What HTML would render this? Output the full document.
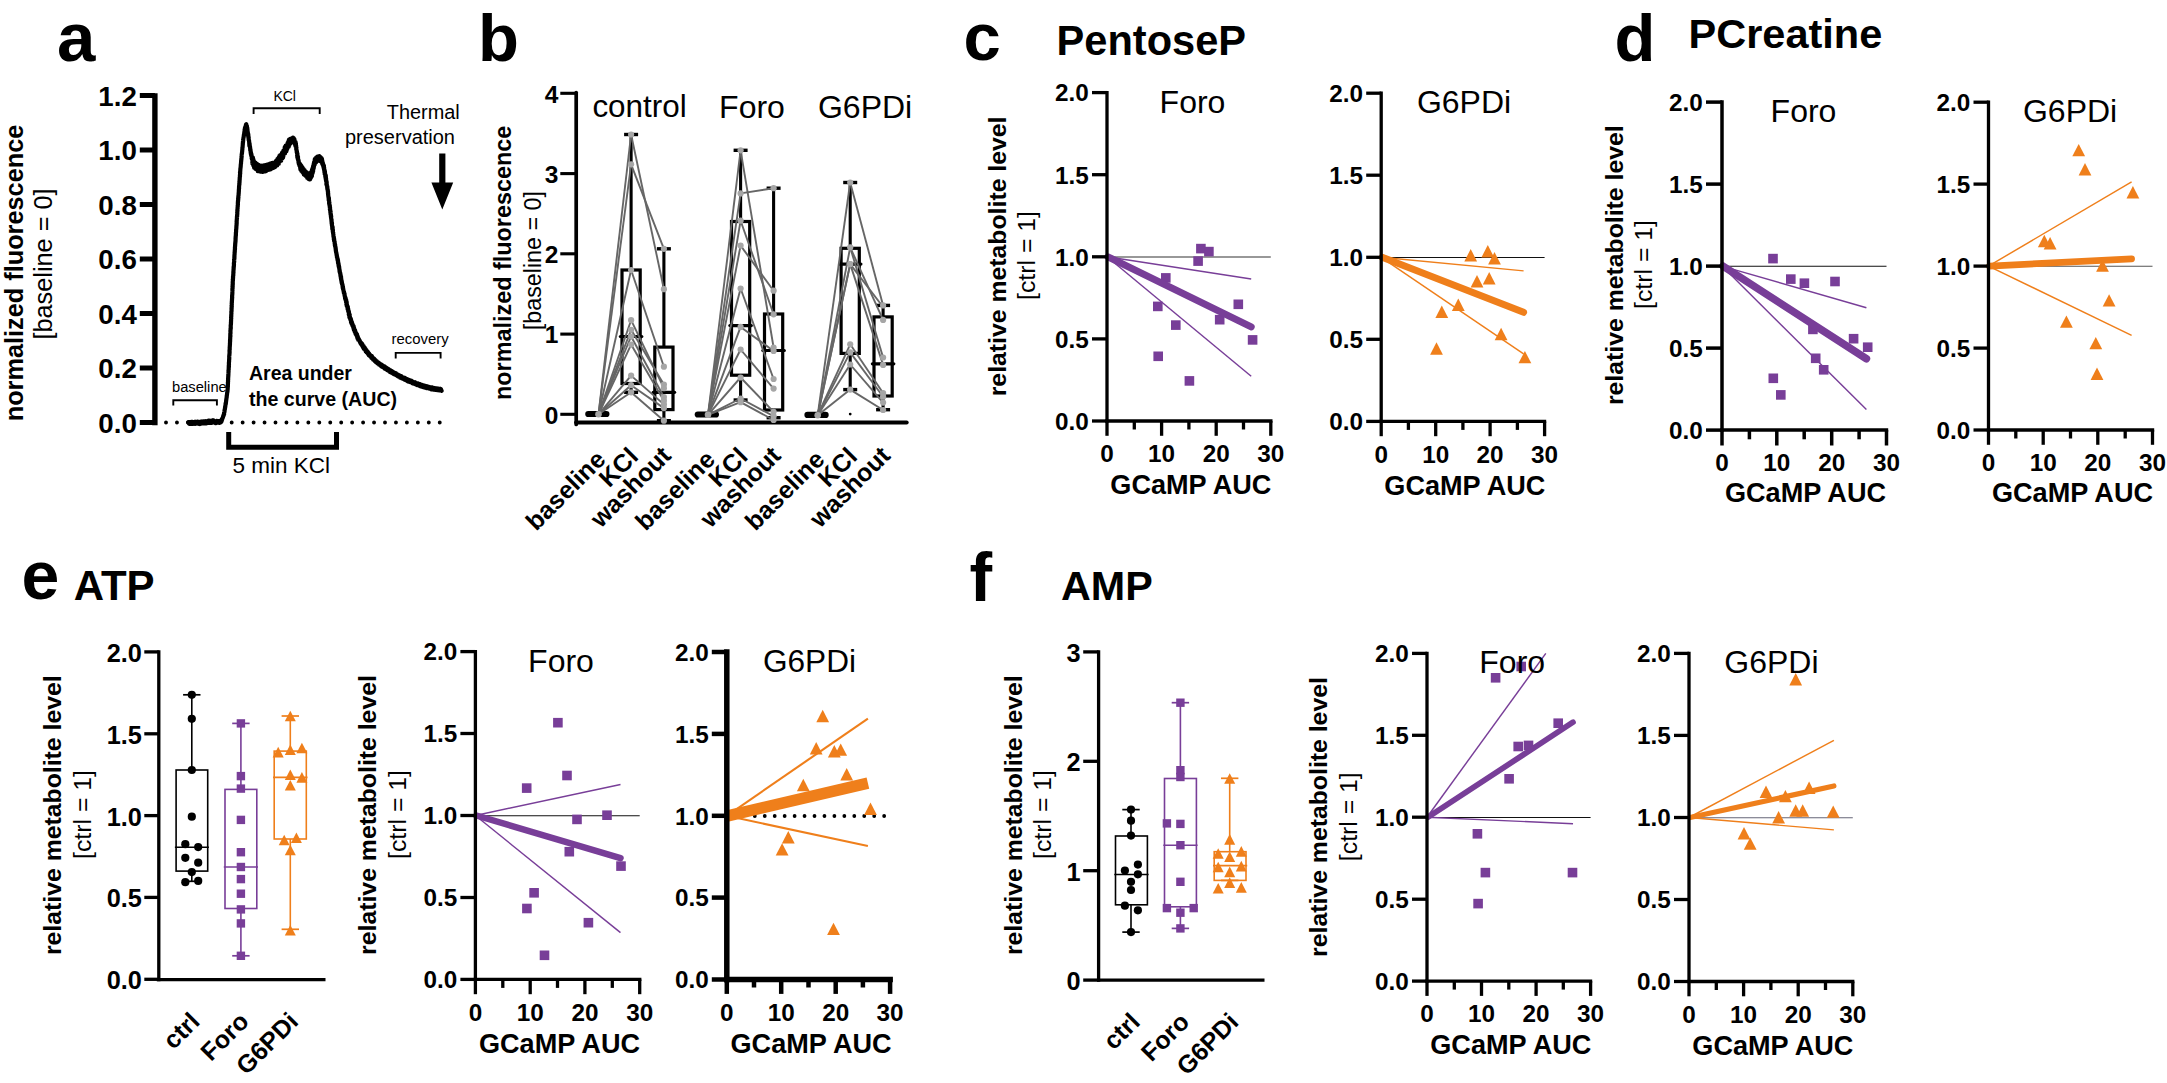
<!DOCTYPE html>
<html><head><meta charset="utf-8"><title>Figure</title>
<style>
html,body{margin:0;padding:0;background:#fff;}
svg{display:block;font-family:"Liberation Sans",sans-serif;}
</style></head>
<body>
<svg width="2167" height="1083" viewBox="0 0 2167 1083">
<rect width="2167" height="1083" fill="#fff"/>
<text x="57.0" y="61.0" font-size="69" font-weight="700">a</text>
<text x="478.0" y="61.0" font-size="67" font-weight="700">b</text>
<text x="963.5" y="59.7" font-size="67" font-weight="700">c</text>
<text x="1614.5" y="60.5" font-size="67" font-weight="700">d</text>
<text x="21.5" y="598.8" font-size="68" font-weight="700">e</text>
<text x="969.5" y="601.0" font-size="68" font-weight="700">f</text>
<text x="1056.5" y="55.0" font-size="41.6" font-weight="700">PentoseP</text>
<text x="1688.5" y="47.8" font-size="41.5" font-weight="700">PCreatine</text>
<text x="73.7" y="599.8" font-size="42" font-weight="700">ATP</text>
<text x="1061.0" y="599.8" font-size="41.3" font-weight="700">AMP</text>
<line x1="154.9" y1="93.3" x2="154.9" y2="425.2" stroke="#000" stroke-width="5.4"/>
<line x1="139.8" y1="422.5" x2="154.9" y2="422.5" stroke="#000" stroke-width="5"/>
<text x="136.8" y="432.5" font-size="27.7" font-weight="700" text-anchor="end">0.0</text>
<line x1="139.8" y1="368.0" x2="154.9" y2="368.0" stroke="#000" stroke-width="5"/>
<text x="136.8" y="378.0" font-size="27.7" font-weight="700" text-anchor="end">0.2</text>
<line x1="139.8" y1="313.5" x2="154.9" y2="313.5" stroke="#000" stroke-width="5"/>
<text x="136.8" y="323.5" font-size="27.7" font-weight="700" text-anchor="end">0.4</text>
<line x1="139.8" y1="259.0" x2="154.9" y2="259.0" stroke="#000" stroke-width="5"/>
<text x="136.8" y="269.0" font-size="27.7" font-weight="700" text-anchor="end">0.6</text>
<line x1="139.8" y1="204.5" x2="154.9" y2="204.5" stroke="#000" stroke-width="5"/>
<text x="136.8" y="214.5" font-size="27.7" font-weight="700" text-anchor="end">0.8</text>
<line x1="139.8" y1="150.0" x2="154.9" y2="150.0" stroke="#000" stroke-width="5"/>
<text x="136.8" y="160.0" font-size="27.7" font-weight="700" text-anchor="end">1.0</text>
<line x1="139.8" y1="95.5" x2="154.9" y2="95.5" stroke="#000" stroke-width="5"/>
<text x="136.8" y="105.5" font-size="27.7" font-weight="700" text-anchor="end">1.2</text>
<text x="22.6" y="273.0" font-size="25.3" font-weight="700" text-anchor="middle" transform="rotate(-90 22.6 273.0)">normalized fluorescence</text>
<text x="52.4" y="264.0" font-size="25.3" text-anchor="middle" transform="rotate(-90 52.4 264.0)">[baseline = 0]</text>
<line x1="166.0" y1="422.5" x2="443.0" y2="422.5" stroke="#000" stroke-width="3.9" stroke-linecap="round" stroke-dasharray="0 10.95"/>
<path d="M188.4,422.1 189.1,423.6 189.5,422.1 189.7,423.9 190.2,422.1 190.7,423.8 191.5,422.0 191.8,424.0 192.6,422.0 193.0,423.9 193.8,422.3 194.2,423.7 194.3,422.1 194.9,423.9 195.3,421.7 196.1,423.5 196.5,421.9 196.7,423.4 197.6,421.8 197.9,423.7 198.5,422.0 199.2,423.9 199.3,421.9 200.0,424.0 200.6,422.0 201.2,423.5 201.3,421.6 201.6,423.5 201.9,421.5 202.8,423.4 203.3,421.5 203.7,423.3 204.0,421.3 204.7,423.4 205.0,421.3 205.2,423.4 206.1,421.3 206.7,423.3 206.9,421.6 207.1,423.2 207.6,421.3 207.9,422.8 208.4,420.7 208.9,422.3 209.1,420.5 209.8,422.8 210.4,420.8 210.5,423.0 210.9,421.3 211.7,422.9 211.6,421.1 212.0,422.5 212.7,420.5 212.7,421.9 213.3,420.3 214.1,422.6 214.2,420.8 214.7,422.7 215.2,421.2 215.7,423.2 215.9,421.1 216.3,422.8 216.7,420.9 217.3,422.4 217.9,421.1 218.2,422.6 218.8,421.1 219.2,422.9 220.1,420.9 220.4,422.2 221.0,421.0 221.6,421.3 221.7,420.3 221.7,420.3 221.9,419.5 222.2,419.4 222.2,418.5 222.4,418.6 222.6,417.8 222.8,417.8 223.0,416.8 223.0,416.8 223.2,415.9 223.4,416.0 223.5,415.1 223.7,415.2 223.9,414.2 224.1,414.3 224.0,413.3 224.1,413.3 224.1,412.5 224.3,412.5 224.5,411.6 224.5,411.6 224.6,410.7 224.5,410.6 224.6,409.8 224.8,409.8 224.9,408.9 224.9,408.9 224.9,408.0 225.1,408.0 225.2,407.1 225.1,407.2 225.2,406.2 225.4,406.2 225.4,405.3 225.5,405.3 225.5,404.5 225.7,404.5 225.6,403.5 225.9,403.6 225.8,402.6 225.9,402.6 226.1,401.7 226.1,401.8 226.1,400.8 226.2,400.8 226.2,399.9 226.3,399.9 226.3,399.0 226.4,399.1 226.5,398.1 226.6,398.1 226.6,397.1 226.7,397.2 226.7,396.3 226.8,396.2 226.8,395.3 226.9,395.3 227.0,394.4 227.0,394.4 227.1,393.4 227.1,393.5 227.2,392.6 227.3,392.5 227.4,391.6 227.5,391.6 227.5,390.7 227.5,390.7 227.6,389.8 227.6,389.8 227.7,388.8 227.7,388.8 227.7,387.9 227.8,387.9 227.7,387.0 227.7,387.0 227.7,386.1 227.9,386.2 227.8,385.2 227.9,385.2 227.9,384.2 227.9,384.4 227.9,383.4 228.0,383.5 227.9,382.5 228.0,382.5 228.0,381.6 228.1,381.5 228.1,380.7 228.0,380.7 228.1,379.8 228.1,379.8 228.2,378.8 228.1,378.8 228.1,377.9 228.2,377.9 228.2,377.0 228.3,377.0 228.2,376.1 228.3,376.2 228.3,375.3 228.4,375.2 228.3,374.3 228.4,374.4 228.4,373.4 228.4,373.5 228.5,372.5 228.5,372.6 228.5,371.6 228.6,371.6 228.5,370.7 228.5,370.6 228.6,369.8 228.7,369.7 228.7,368.9 228.7,368.8 228.7,368.0 228.8,368.0 228.7,367.0 228.9,367.0 228.9,366.1 228.8,366.2 228.8,365.2 228.9,365.3 228.9,364.3 229.0,364.3 228.9,363.4 228.9,363.4 228.9,362.5 229.0,362.5 229.0,361.5 229.1,361.6 229.1,360.7 229.1,360.7 229.1,359.8 229.1,359.8 229.3,358.9 229.2,358.9 229.2,358.0 229.2,357.9 229.3,357.0 229.3,357.1 229.2,356.2 229.3,356.1 229.3,355.3 229.4,355.2 229.4,354.3 229.5,354.3 229.5,353.4 229.5,353.4 229.6,352.6 229.6,352.5 229.5,351.6 229.6,351.6 229.6,350.7 229.5,350.7 229.6,349.7 229.7,349.8 229.7,348.8 229.7,348.9 229.7,348.0 229.7,348.0 229.7,347.0 229.8,347.1 229.8,346.1 229.8,346.1 229.9,345.2 229.9,345.3 229.9,344.4 230.0,344.3 229.9,343.5 230.0,343.4 230.0,342.5 230.0,342.5 230.0,341.6 230.1,341.7 230.1,340.8 230.0,340.7 230.2,339.9 230.1,339.8 230.1,339.0 230.2,339.0 230.2,338.1 230.2,338.0 230.2,337.2 230.3,337.1 230.4,336.2 230.2,336.2 230.4,335.3 230.3,335.3 230.3,334.4 230.3,334.4 230.3,333.5 230.5,333.5 230.5,332.6 230.5,332.6 230.4,331.6 230.5,331.6 230.4,330.8 230.5,330.8 230.5,329.9 230.6,329.9 230.5,328.9 230.7,328.9 230.7,328.0 230.8,328.1 230.7,327.2 230.8,327.2 230.7,326.3 230.7,326.2 230.7,325.3 230.8,325.4 230.8,324.5 230.9,324.4 230.9,323.5 231.0,323.6 230.9,322.6 231.0,322.7 231.0,321.8 231.0,321.7 231.1,320.8 231.0,320.8 231.1,320.0 231.1,319.9 231.1,319.0 231.2,319.0 231.2,318.2 231.2,318.1 231.1,317.3 231.1,317.3 231.2,316.4 231.3,316.4 231.3,315.5 231.2,315.4 231.3,314.6 231.3,314.5 231.4,313.6 231.4,313.6 231.4,312.7 231.4,312.7 231.3,311.8 231.5,311.8 231.5,310.9 231.6,310.9 231.5,310.0 231.5,310.0 231.6,309.0 231.6,309.0 231.5,308.2 231.7,308.2 231.7,307.4 231.6,307.4 231.7,306.3 231.8,306.4 231.6,305.5 231.7,305.5 231.8,304.6 231.8,304.6 231.8,303.7 231.7,303.7 231.8,302.7 231.9,302.8 231.8,301.9 231.9,301.9 231.9,301.0 232.0,301.0 231.9,300.1 232.0,300.0 232.0,299.2 232.1,299.2 232.1,298.3 232.0,298.2 232.2,297.3 232.1,297.3 232.1,296.4 232.1,296.4 232.2,295.5 232.1,295.5 232.2,294.7 232.3,294.6 232.3,293.7 232.3,293.7 232.4,292.9 232.4,292.8 232.3,291.9 232.3,292.0 232.4,291.1 232.4,291.1 232.5,290.1 232.4,290.1 232.4,289.2 232.4,289.2 232.4,288.4 232.6,288.4 232.6,287.4 232.6,287.4 232.5,286.5 232.7,286.5 232.7,285.6 232.6,285.6 232.6,284.8 232.7,284.7 232.8,283.9 232.8,283.8 232.7,282.9 232.8,282.9 232.7,282.0 232.8,282.1 232.8,281.1 232.9,281.1 232.9,280.2 232.9,280.2 232.8,279.4 233.0,279.3 233.0,278.4 233.0,278.4 233.1,277.5 233.0,277.6 233.1,276.7 233.0,276.7 233.2,275.7 233.3,275.7 233.2,274.8 233.3,274.9 233.3,274.0 233.3,273.9 233.4,273.1 233.4,273.1 233.5,272.1 233.4,272.1 233.4,271.2 233.5,271.2 233.5,270.3 233.5,270.3 233.5,269.4 233.6,269.5 233.7,268.5 233.6,268.5 233.6,267.6 233.8,267.6 233.7,266.7 233.8,266.8 233.9,265.8 233.9,265.8 233.9,265.0 233.9,264.9 234.0,264.1 233.9,264.0 233.9,263.1 234.0,263.1 234.0,262.2 234.1,262.2 234.2,261.3 234.2,261.3 234.2,260.4 234.2,260.5 234.1,259.6 234.2,259.5 234.4,258.6 234.4,258.6 234.4,257.8 234.3,257.8 234.5,256.9 234.4,256.9 234.4,256.0 234.4,255.9 234.5,255.0 234.6,255.0 234.5,254.2 234.6,254.1 234.6,253.3 234.7,253.3 234.6,252.4 234.7,252.4 234.8,251.5 234.7,251.5 234.8,250.6 234.8,250.6 234.8,249.6 234.9,249.7 235.0,248.7 234.9,248.7 235.0,247.9 234.9,247.9 235.0,246.9 235.0,247.0 235.1,246.1 235.0,246.1 235.2,245.1 235.1,245.2 235.2,244.3 235.2,244.2 235.3,243.3 235.2,243.4 235.4,242.4 235.3,242.4 235.5,241.5 235.4,241.5 235.5,240.7 235.5,240.7 235.6,239.8 235.6,239.7 235.5,238.8 235.6,238.8 235.6,238.0 235.7,237.9 235.6,237.1 235.7,237.1 235.7,236.1 235.8,236.1 235.9,235.3 235.8,235.2 235.9,234.3 235.9,234.3 235.9,233.4 235.9,233.4 235.9,232.5 236.0,232.5 236.1,231.5 236.1,231.6 236.1,230.7 236.1,230.7 236.1,229.8 236.2,229.7 236.2,228.9 236.3,228.9 236.3,228.0 236.3,227.9 236.4,227.1 236.4,227.1 236.4,226.1 236.4,226.2 236.5,225.2 236.6,225.2 236.6,224.3 236.5,224.3 236.6,223.4 236.7,223.4 236.7,222.5 236.7,222.6 236.6,221.6 236.7,221.6 236.7,220.7 236.7,220.7 236.8,219.7 236.8,219.8 236.8,218.9 236.9,218.8 237.0,217.9 237.0,218.0 236.9,217.0 237.0,217.0 237.1,216.2 237.2,216.2 237.1,215.2 237.1,215.2 237.2,214.4 237.3,214.3 237.3,213.3 237.3,213.4 237.3,212.6 237.2,212.5 237.4,211.6 237.4,211.6 237.3,210.7 237.5,210.6 237.4,209.8 237.4,209.8 237.5,208.8 237.6,208.8 237.6,208.0 237.6,208.0 237.6,207.1 237.6,207.1 237.8,206.1 237.7,206.1 237.7,205.2 237.8,205.2 237.9,204.3 237.9,204.4 237.9,203.4 237.8,203.4 237.9,202.5 237.9,202.6 237.9,201.6 238.1,201.6 238.0,200.7 238.1,200.7 238.2,199.8 238.2,199.8 238.1,198.8 238.3,198.9 238.2,198.0 238.4,198.0 238.4,197.1 238.3,197.1 238.4,196.3 238.4,196.2 238.5,195.2 238.6,195.3 238.6,194.4 238.6,194.4 238.6,193.5 238.7,193.5 238.8,192.7 238.7,192.6 238.8,191.6 238.8,191.7 238.9,190.8 238.8,190.8 238.9,189.9 238.9,190.0 238.9,188.9 239.0,189.0 239.0,188.0 239.1,188.1 239.0,187.2 239.0,187.2 239.1,186.3 239.1,186.3 239.2,185.4 239.2,185.3 239.3,184.4 239.4,184.5 239.3,183.5 239.4,183.6 239.5,182.6 239.4,182.7 239.6,181.7 239.4,181.7 239.5,180.9 239.6,180.9 239.6,179.9 239.7,179.9 239.6,179.1 239.8,179.0 239.7,178.2 239.7,178.1 239.8,177.2 239.8,177.2 240.0,176.3 240.0,176.4 239.9,175.4 240.0,175.5 240.0,174.5 240.0,174.5 240.1,173.7 240.2,173.6 240.0,172.8 240.2,172.8 240.1,171.8 240.2,171.9 240.2,170.9 240.3,171.0 240.3,170.0 240.3,170.0 240.4,169.1 240.4,169.2 240.4,168.2 240.5,168.3 240.6,167.3 240.6,167.3 240.7,166.5 240.7,166.4 240.7,165.5 240.8,165.5 240.8,164.6 240.8,164.6 240.9,163.7 241.0,163.7 241.0,162.8 241.0,162.9 241.1,161.9 241.1,161.9 241.2,161.0 241.1,161.0 241.3,160.1 241.2,160.1 241.4,159.1 241.3,159.2 241.4,158.3 241.5,158.3 241.5,157.4 241.6,157.4 241.5,156.4 241.6,156.5 241.8,155.5 241.8,155.6 241.7,154.7 241.7,154.6 241.8,153.8 241.9,153.8 242.0,152.9 242.0,152.9 242.0,151.9 242.1,152.0 242.2,151.1 242.2,151.1 242.2,150.2 242.3,150.2 242.3,149.2 242.4,149.3 242.4,148.4 242.4,148.4 242.4,147.5 242.6,147.5 242.6,146.6 242.6,146.5 242.7,145.7 242.7,145.7 242.7,144.7 242.8,144.7 242.8,143.8 242.8,143.9 242.8,142.9 243.0,142.9 242.9,142.0 243.0,142.1 243.1,141.1 243.2,141.1 243.1,140.2 243.1,140.3 243.2,139.3 243.3,139.4 243.4,138.4 243.4,138.4 243.5,137.5 243.6,137.5 243.7,136.6 243.7,136.6 243.9,135.6 243.8,135.7 243.9,134.7 244.0,134.7 244.2,133.7 244.2,133.8 244.2,132.8 244.3,132.9 244.4,131.9 244.4,131.9 244.5,131.0 244.6,131.0 244.7,130.1 244.7,130.0 244.8,129.2 244.8,129.2 244.9,128.3 245.0,128.2 245.1,127.3 245.3,127.3 245.5,126.3 245.5,126.4 245.8,125.4 245.8,125.5 246.0,124.6 246.0,124.6 246.3,124.3 246.2,125.7 246.3,125.1 246.5,126.6 246.9,126.0 246.7,127.8 247.0,127.0 247.1,128.7 247.3,127.9 247.2,129.6 247.4,128.8 247.4,130.6 247.5,129.9 247.4,131.2 247.6,130.8 247.7,132.1 247.7,131.6 247.8,133.3 247.7,132.4 247.9,134.1 248.1,133.3 248.0,134.9 248.3,134.4 248.2,135.9 248.0,135.2 248.4,136.9 248.3,136.0 248.4,137.6 248.7,137.2 248.6,138.6 248.5,137.8 248.6,139.4 248.7,138.7 248.7,140.3 248.8,139.7 249.1,141.2 249.1,140.6 249.1,142.1 249.1,141.3 249.3,143.1 249.2,142.5 249.3,144.0 249.5,143.2 249.3,144.9 249.7,144.2 249.4,145.7 249.5,145.2 249.9,146.6 249.9,145.9 250.1,147.5 250.0,146.8 250.1,148.4 250.2,147.9 250.2,149.3 250.3,148.8 250.2,150.1 250.5,149.4 250.5,151.1 250.6,150.4 250.6,151.9 250.6,151.4 250.7,152.9 250.9,152.1 250.8,153.8 250.9,153.3 251.3,154.7 251.4,154.1 251.2,155.6 251.5,154.8 251.7,156.5 251.6,156.0 251.8,157.3 251.7,156.9 251.7,158.4 251.9,157.5 251.9,159.3 252.1,158.7 252.4,160.0 252.5,159.6 252.3,163.5 252.9,157.7 253.1,163.2 253.2,158.7 253.3,165.4 253.3,159.2 253.8,164.8 253.5,160.5 254.2,165.7 254.0,161.2 254.1,167.8 254.5,163.0 254.8,168.0 255.3,162.7 255.5,169.0 256.0,163.3 256.6,169.0 256.8,163.7 257.5,170.2 257.6,165.1 257.7,171.1 258.4,164.9 258.5,171.1 259.3,165.5 259.5,171.0 259.9,165.5 260.3,171.7 260.9,165.6 261.5,171.2 261.5,166.7 262.3,171.8 263.0,165.6 263.0,171.9 263.9,165.4 264.2,170.8 264.8,165.3 265.2,171.5 265.4,166.1 266.0,171.1 266.3,164.8 267.1,170.0 267.4,164.7 267.8,169.7 268.1,164.3 268.8,169.8 268.9,164.0 269.7,169.2 270.0,163.6 270.7,169.3 270.9,163.6 271.1,168.4 271.6,163.1 272.1,168.5 272.6,162.9 272.9,167.3 273.9,162.8 273.8,167.8 274.5,162.6 274.8,166.8 275.1,162.1 275.2,167.1 276.0,160.8 276.2,165.4 276.7,160.3 277.2,165.5 277.5,158.8 277.5,163.7 277.8,159.4 278.0,163.1 278.6,157.5 278.8,163.7 279.3,158.0 279.4,162.1 279.4,155.9 279.7,161.5 280.2,155.1 280.5,160.5 280.7,155.5 281.2,160.7 281.1,155.0 281.4,158.9 282.0,152.8 282.2,157.6 282.4,152.3 282.5,158.3 282.4,152.4 283.1,157.4 283.2,151.4 283.4,156.3 283.4,150.5 283.7,154.6 284.1,150.0 284.1,153.8 284.6,149.4 284.9,153.1 284.7,147.2 285.1,153.4 285.7,146.4 285.5,151.8 285.7,145.5 286.4,151.2 286.4,145.6 286.8,150.1 286.9,145.0 286.9,148.6 287.4,143.6 287.3,149.0 287.6,142.9 287.8,147.3 288.5,142.2 288.3,146.8 288.6,140.5 288.8,146.7 289.0,139.7 289.6,144.7 289.7,139.8 289.9,143.2 290.2,138.8 290.8,143.1 290.7,138.9 291.6,141.6 292.0,138.3 292.5,140.9 292.9,137.6 292.8,141.0 293.6,138.1 293.6,142.1 294.4,139.1 294.5,142.5 294.4,139.3 294.9,143.4 294.7,140.9 295.1,144.7 295.0,141.7 295.4,145.8 295.6,142.2 295.4,146.0 295.9,143.3 296.0,146.9 296.1,145.4 296.2,147.2 296.1,146.5 296.4,148.0 296.4,147.3 296.2,149.0 296.3,148.2 296.4,149.8 296.3,149.0 296.6,150.7 296.5,149.8 296.9,151.7 296.7,150.7 296.8,152.6 296.7,151.5 297.2,153.4 297.0,152.6 297.1,154.1 297.4,153.6 297.1,155.0 297.2,154.3 297.2,155.9 297.6,155.4 297.3,157.0 297.7,156.1 297.8,157.7 298.0,157.0 297.7,158.6 298.0,157.9 297.9,159.5 298.1,159.0 298.3,160.6 298.1,159.7 298.5,161.3 298.6,160.4 298.5,162.3 298.8,161.5 298.7,163.3 298.9,162.4 298.8,164.0 299.1,163.1 299.5,165.0 299.6,163.9 299.4,165.7 300.0,164.8 299.9,166.6 300.2,164.2 300.3,168.6 300.5,164.9 300.4,169.5 301.1,165.4 301.3,171.0 301.5,166.0 301.8,170.9 302.0,167.5 302.3,171.9 302.5,167.4 302.9,172.6 303.1,168.7 303.7,173.3 303.6,169.1 303.8,174.5 304.6,170.0 304.5,174.9 305.0,171.1 305.1,175.2 305.5,171.5 305.9,176.0 306.1,171.9 306.9,177.1 307.0,172.5 307.2,177.9 307.7,173.2 308.1,178.2 308.2,174.3 308.5,178.9 309.0,174.4 309.1,179.3 309.9,175.5 310.0,179.4 310.0,173.6 310.3,178.9 310.4,174.0 311.0,177.6 310.8,172.7 311.2,177.1 311.3,172.0 311.9,176.2 311.6,171.0 311.8,175.2 312.1,169.4 312.3,174.0 312.4,168.6 312.6,173.1 312.7,167.7 312.9,171.7 313.0,167.7 313.1,171.4 313.1,166.1 313.2,169.8 313.5,165.3 313.5,168.9 313.5,164.9 313.8,167.9 313.7,163.9 313.8,167.0 314.2,162.7 314.1,166.3 314.0,162.4 314.1,165.6 314.5,161.8 314.8,164.4 314.9,160.1 315.1,163.4 314.8,159.1 314.7,162.4 315.4,158.8 316.0,162.5 316.1,157.7 316.4,161.6 316.9,157.7 317.1,161.1 317.4,156.5 318.0,160.6 318.1,156.9 318.8,160.4 319.3,156.1 320.0,160.1 320.0,156.7 320.6,160.8 320.6,157.3 320.7,161.5 321.5,158.0 321.5,162.1 322.0,158.9 322.2,163.8 322.4,161.2 322.1,163.0 322.5,162.0 322.4,163.9 322.9,162.9 322.9,165.2 323.2,164.1 323.2,166.0 323.3,164.7 323.3,166.7 323.9,165.6 323.9,167.5 323.9,166.6 323.8,168.7 324.1,167.3 324.2,169.5 324.0,168.6 324.4,170.2 324.1,169.5 324.5,171.5 324.6,170.1 324.4,172.0 324.9,171.2 324.9,173.1 324.7,172.1 324.7,174.2 325.1,173.0 325.1,174.9 325.0,173.7 325.4,176.1 325.4,174.7 325.3,176.6 325.8,175.5 325.5,177.9 325.9,176.7 325.9,178.8 325.9,177.3 325.8,179.5 326.1,178.6 326.0,180.6 326.1,179.2 326.1,181.2 326.2,180.4 326.7,182.2 326.5,181.4 326.5,183.2 326.5,182.3 326.4,184.3 326.7,183.2 326.6,185.0 326.7,184.2 327.1,185.9 326.9,185.2 327.0,186.6 327.3,186.3 327.2,187.6 327.4,187.2 327.3,188.5 327.4,187.9 327.4,189.5 327.6,189.0 327.6,190.2 327.8,189.9 327.9,191.2 327.8,190.8 327.9,192.0 328.1,191.7 328.0,193.0 328.0,192.5 328.0,194.0 328.2,193.5 328.2,194.7 328.1,194.3 328.3,195.8 328.2,195.2 328.4,196.6 328.4,196.3 328.5,197.5 328.5,197.0 328.6,198.4 328.9,197.9 328.9,199.5 328.7,199.0 328.7,200.3 329.0,199.8 329.0,201.2 329.1,200.8 329.3,202.1 329.2,201.7 329.1,203.1 329.4,202.5 329.2,203.8 329.3,203.5 329.4,204.8 329.4,204.4 329.6,205.7 329.8,205.3 329.8,206.6 329.7,206.1 329.8,207.4 330.0,207.0 329.9,208.4 330.1,208.0 329.9,209.3 330.0,208.9 330.1,210.4 330.3,210.0 330.3,211.2 330.4,210.7 330.3,212.0 330.6,211.7 330.7,213.1 330.6,212.5 330.7,214.0 330.5,213.5 330.7,214.9 330.9,214.5 330.9,215.7 331.0,215.3 330.9,216.7 331.2,216.2 331.1,217.6 331.0,217.2 331.2,218.5 331.2,218.2 331.4,219.5 331.3,219.1 331.4,220.3 331.6,219.9 331.5,221.4 331.5,220.8 331.6,222.2 331.7,221.6 331.6,223.1 331.9,222.6 332.0,224.0 331.8,223.5 331.9,224.8 331.9,224.4 332.0,225.8 332.1,225.4 332.2,226.6 332.2,226.2 332.2,227.4 332.6,227.0 332.3,228.5 332.7,227.9 332.4,229.3 332.6,228.9 332.7,230.1 332.9,229.7 332.9,231.2 332.9,230.7 332.8,231.9 332.8,231.4 333.2,232.8 333.0,232.4 333.3,233.9 333.1,233.2 333.4,234.7 333.3,234.3 333.5,235.5 333.4,235.1 333.5,236.6 333.5,236.1 333.7,237.4 333.8,236.8 333.9,238.4 333.9,237.8 333.8,239.1 334.1,238.8 334.2,240.0 334.2,239.5 334.1,240.9 334.3,240.6 334.5,241.8 334.6,241.3 334.7,242.8 334.6,242.3 334.7,243.7 334.7,243.3 334.9,244.7 335.1,244.3 334.9,245.5 335.1,245.1 335.1,246.4 335.2,246.0 335.5,247.5 335.5,246.8 335.6,248.3 335.7,247.9 335.7,249.2 335.6,248.7 335.9,250.1 335.9,249.7 335.9,251.1 335.8,250.6 336.1,251.9 336.0,251.4 336.2,252.8 336.3,252.3 336.4,253.7 336.4,253.3 336.7,254.6 336.5,254.0 336.7,255.4 336.8,255.0 336.9,256.4 336.9,255.8 336.9,257.2 337.2,256.9 337.2,258.0 337.3,257.5 337.4,259.1 337.6,258.6 337.8,260.0 337.5,259.3 337.7,260.7 338.0,260.3 338.0,261.6 338.1,261.3 338.0,262.5 338.0,262.1 338.1,263.4 338.4,263.0 338.6,264.4 338.6,263.9 338.7,265.3 338.5,264.7 338.7,266.2 338.9,265.6 338.8,267.0 339.1,266.4 339.2,267.8 339.2,267.5 339.3,268.9 339.2,268.2 339.5,269.7 339.4,269.3 339.7,270.7 339.5,270.3 339.6,271.6 339.7,271.0 339.8,272.5 340.0,272.1 340.2,273.4 340.2,272.8 340.4,274.1 340.3,273.9 340.4,275.3 340.6,274.8 340.5,276.1 340.7,275.6 340.7,276.9 341.0,276.5 341.1,277.9 340.8,277.4 341.0,278.9 341.2,278.4 341.1,279.6 341.3,279.2 341.4,280.5 341.3,280.1 341.5,281.4 341.7,280.9 341.6,282.3 341.9,282.0 341.8,283.3 341.9,282.8 342.1,284.3 342.3,283.9 342.3,285.2 342.5,284.6 342.5,286.0 342.5,285.6 342.7,287.0 342.9,286.4 342.7,287.9 343.0,287.3 343.1,288.6 343.1,288.2 343.1,289.5 343.3,288.9 343.4,290.4 343.4,290.0 343.6,291.2 343.6,290.7 343.8,292.2 344.0,291.8 343.9,293.0 344.1,292.6 344.3,294.0 344.5,293.5 344.6,294.9 344.4,294.4 344.7,295.9 344.7,295.2 344.8,296.7 344.8,296.1 345.3,297.8 345.0,296.9 345.1,298.6 345.5,297.6 345.4,299.5 345.6,298.2 345.8,300.4 345.9,299.0 346.0,301.2 346.2,300.0 346.0,302.1 346.0,301.0 346.5,303.3 346.7,302.1 346.4,304.2 346.7,302.9 346.8,304.9 346.6,303.8 346.7,305.9 347.0,304.6 347.2,306.7 347.2,305.8 347.6,307.7 347.8,306.6 347.6,308.7 347.6,307.5 347.6,309.3 348.1,308.4 348.2,310.3 348.1,309.1 348.2,311.3 348.4,310.1 348.6,312.0 348.7,310.8 348.8,312.9 348.9,311.5 348.8,313.8 349.0,312.5 348.8,314.6 349.1,313.5 349.4,315.7 349.7,314.6 349.6,316.4 349.3,315.5 349.4,317.5 349.8,316.4 350.2,318.3 349.8,317.3 350.3,319.5 350.1,318.2 350.6,320.0 350.9,318.9 350.9,320.9 351.1,319.7 351.0,322.1 351.1,320.5 351.2,322.8 351.5,321.3 351.5,323.6 351.9,322.1 352.4,324.5 352.1,323.3 352.3,325.2 352.4,324.2 352.9,326.2 352.8,324.6 352.9,327.0 353.0,325.5 353.6,327.7 353.7,326.4 353.6,328.6 353.8,327.2 353.8,329.7 354.2,328.3 354.4,330.6 354.3,329.0 354.6,331.4 355.1,330.1 355.3,332.3 355.1,331.0 355.2,333.2 355.3,331.4 355.6,333.9 355.8,332.6 356.3,334.4 356.3,333.1 356.7,335.6 357.0,334.4 356.8,336.4 357.2,335.2 357.3,337.0 357.5,336.0 357.4,338.2 357.8,336.5 357.8,338.8 358.0,337.5 358.2,339.7 358.4,338.2 358.8,340.2 358.9,339.1 359.5,341.2 359.3,339.7 360.0,342.2 359.9,340.9 360.1,342.6 360.2,341.5 360.7,343.7 360.9,342.6 361.4,344.5 361.5,343.1 361.9,345.5 362.2,343.8 362.2,346.0 362.5,344.5 362.7,346.8 362.9,345.7 363.5,347.4 363.6,346.1 363.6,348.5 363.9,347.3 364.1,349.0 364.8,347.7 365.1,349.7 365.3,348.7 365.5,350.7 365.6,349.1 365.7,351.5 366.5,350.0 366.6,352.3 366.7,350.7 367.3,352.7 367.6,351.5 367.7,353.6 368.1,352.2 368.4,354.2 368.4,352.8 368.7,355.1 369.1,353.5 369.4,355.6 369.5,354.5 370.3,356.4 370.3,355.0 370.9,356.9 370.8,355.5 371.3,357.8 371.9,356.1 372.2,358.1 372.3,356.8 372.9,358.8 372.8,357.8 373.1,359.6 373.8,358.3 374.0,360.1 374.3,358.7 374.8,361.0 375.0,359.5 375.5,361.5 375.8,360.4 376.0,362.2 376.3,361.0 376.7,362.6 376.9,361.4 377.2,363.2 378.0,362.1 378.1,363.8 378.8,362.7 379.0,364.6 379.1,363.1 379.9,365.0 380.0,363.8 380.4,365.4 380.9,364.2 381.1,366.1 381.7,364.7 381.8,366.6 382.5,365.3 382.9,367.2 382.9,365.6 383.3,367.4 383.9,366.2 384.2,368.1 384.8,366.5 384.7,368.6 385.3,367.2 385.9,369.1 386.1,367.5 386.5,369.6 386.9,368.0 387.4,370.2 387.6,368.9 388.2,370.6 388.6,369.0 388.6,371.0 389.0,369.5 389.4,371.4 390.2,370.1 390.1,372.2 390.9,370.6 390.9,372.6 391.6,371.0 392.3,373.1 392.6,371.7 392.7,373.4 392.9,371.7 393.5,373.8 393.9,372.5 394.6,374.4 394.8,372.9 394.9,374.7 395.8,373.1 396.2,375.1 396.2,374.0 396.8,375.6 397.2,374.2 397.7,376.1 398.2,374.8 398.7,376.6 398.6,375.2 399.3,376.9 399.7,375.6 400.0,377.6 400.4,375.8 401.1,377.9 401.3,376.1 401.8,378.4 401.9,376.8 402.7,378.4 403.3,377.4 403.5,378.9 404.1,377.6 404.5,379.5 404.8,377.9 405.0,379.8 405.8,378.6 406.3,380.2 406.2,379.0 407.0,380.9 407.2,379.1 407.5,381.3 408.2,379.7 408.3,381.6 408.7,379.8 409.2,381.7 409.8,380.4 410.2,382.0 410.9,380.8 411.3,382.4 411.7,380.8 411.8,382.7 412.2,381.3 412.6,383.3 412.9,381.8 413.7,383.6 414.1,382.3 414.6,383.8 415.1,382.2 415.6,384.3 415.7,382.8 416.4,384.6 416.9,383.3 417.1,385.1 417.6,383.4 417.8,385.1 418.3,383.5 419.1,385.4 419.6,384.2 419.8,386.1 420.1,384.1 420.8,386.0 421.0,384.7 421.4,386.6 421.8,384.8 422.3,386.6 422.9,385.4 423.4,387.2 423.8,385.5 423.9,387.3 424.4,385.6 424.9,387.5 425.5,386.0 426.1,387.6 426.2,386.0 426.8,388.2 427.6,386.4 427.6,388.0 428.4,386.8 428.7,388.5 428.9,386.9 429.4,388.7 430.0,387.2 430.3,388.9 430.8,387.5 431.2,389.3 431.9,387.3 432.0,389.5 432.8,387.6 433.3,389.6 433.6,387.8 434.0,389.6 434.4,388.1 435.1,389.8 435.8,388.5 436.1,389.9 436.6,388.3 437.1,390.0 437.3,388.6 438.2,390.1 438.4,388.6 439.0,390.4 439.4,388.9 440.0,390.4 440.4,389.0 440.5,390.5 440.9,389.0 441.6,390.7" fill="none" stroke="#000" stroke-width="4.2" stroke-linejoin="round" stroke-linecap="round"/>
<path d="M253.6,114 V108.3 H319.7 V114" fill="none" stroke="#000" stroke-width="1.9"/>
<text x="284.7" y="101.2" font-size="14" text-anchor="middle">KCl</text>
<path d="M173.3,405.6 V400.2 H216.9 V405.6" fill="none" stroke="#000" stroke-width="1.9"/>
<text x="172.0" y="392.2" font-size="14.7">baseline</text>
<path d="M395.7,358.4 V352.9 H440.6 V358.4" fill="none" stroke="#000" stroke-width="1.9"/>
<text x="391.5" y="344.0" font-size="14.9">recovery</text>
<text x="459.8" y="118.8" font-size="19.9" text-anchor="end">Thermal</text>
<text x="455.0" y="144.4" font-size="20" text-anchor="end">preservation</text>
<path d="M439.2,153.5 H445.4 V182.5 H453.2 L442.3,209.6 L431.4,182.5 H439.2 Z" fill="#000"/>
<text x="249.0" y="379.8" font-size="19.5" font-weight="700">Area under</text>
<text x="249.0" y="405.5" font-size="19.6" font-weight="700">the curve (AUC)</text>
<path d="M228.7,432 V447.3 H336.5 V432" fill="none" stroke="#000" stroke-width="5"/>
<text x="281.3" y="473.4" font-size="22.5" text-anchor="middle">5 min KCl</text>
<line x1="576.2" y1="92.6" x2="576.2" y2="424.5" stroke="#000" stroke-width="3.7" stroke-linecap="round"/>
<line x1="576.2" y1="422.5" x2="906.6" y2="422.5" stroke="#000" stroke-width="4.2" stroke-linecap="round"/>
<line x1="560.3" y1="414.3" x2="576.2" y2="414.3" stroke="#000" stroke-width="3.1"/>
<text x="558.5" y="423.6" font-size="24.5" font-weight="700" text-anchor="end">0</text>
<line x1="560.3" y1="334.1" x2="576.2" y2="334.1" stroke="#000" stroke-width="3.1"/>
<text x="558.5" y="343.4" font-size="24.5" font-weight="700" text-anchor="end">1</text>
<line x1="560.3" y1="253.8" x2="576.2" y2="253.8" stroke="#000" stroke-width="3.1"/>
<text x="558.5" y="263.1" font-size="24.5" font-weight="700" text-anchor="end">2</text>
<line x1="560.3" y1="173.6" x2="576.2" y2="173.6" stroke="#000" stroke-width="3.1"/>
<text x="558.5" y="182.9" font-size="24.5" font-weight="700" text-anchor="end">3</text>
<line x1="560.3" y1="93.3" x2="576.2" y2="93.3" stroke="#000" stroke-width="3.1"/>
<text x="558.5" y="102.6" font-size="24.5" font-weight="700" text-anchor="end">4</text>
<text x="511.3" y="262.9" font-size="23.4" font-weight="700" text-anchor="middle" transform="rotate(-90 511.3 262.9)">normalized fluorescence</text>
<text x="540.9" y="260.6" font-size="23.3" text-anchor="middle" transform="rotate(-90 540.9 260.6)">[baseline = 0]</text>
<text x="639.5" y="117.3" font-size="31.4" text-anchor="middle">control</text>
<text x="752.0" y="117.5" font-size="32" text-anchor="middle">Foro</text>
<text x="865.1" y="117.5" font-size="32" text-anchor="middle">G6PDi</text>
<line x1="588.3" y1="414.0" x2="606.4" y2="414.0" stroke="#000" stroke-width="6.2" stroke-linecap="round"/>
<line x1="631.1" y1="134.5" x2="631.1" y2="270.0" stroke="#000" stroke-width="3.1"/>
<line x1="631.1" y1="383.5" x2="631.1" y2="392.3" stroke="#000" stroke-width="3.1"/>
<line x1="624.1" y1="134.5" x2="638.1" y2="134.5" stroke="#000" stroke-width="3.4"/>
<line x1="624.1" y1="392.3" x2="638.1" y2="392.3" stroke="#000" stroke-width="3.4"/>
<rect x="622.0" y="270.0" width="18.2" height="113.5" fill="none" stroke="#000" stroke-width="3.2"/>
<line x1="620.4" y1="336.5" x2="641.8" y2="336.5" stroke="#000" stroke-width="3.2" stroke-linecap="round"/>
<line x1="663.9" y1="248.8" x2="663.9" y2="347.1" stroke="#000" stroke-width="3.1"/>
<line x1="663.9" y1="409.6" x2="663.9" y2="420.7" stroke="#000" stroke-width="3.1"/>
<line x1="656.9" y1="248.8" x2="670.9" y2="248.8" stroke="#000" stroke-width="3.4"/>
<line x1="656.9" y1="420.7" x2="670.9" y2="420.7" stroke="#000" stroke-width="3.4"/>
<rect x="654.8" y="347.1" width="18.2" height="62.5" fill="none" stroke="#000" stroke-width="3.2"/>
<line x1="653.2" y1="392.3" x2="674.6" y2="392.3" stroke="#000" stroke-width="3.2" stroke-linecap="round"/>
<line x1="598.5" y1="414.3" x2="631.1" y2="134.5" stroke="#666" stroke-width="1.9"/>
<line x1="598.5" y1="414.3" x2="631.1" y2="164.3" stroke="#666" stroke-width="1.9"/>
<line x1="598.5" y1="414.3" x2="631.1" y2="270.0" stroke="#666" stroke-width="1.9"/>
<line x1="598.5" y1="414.3" x2="631.1" y2="320.2" stroke="#666" stroke-width="1.9"/>
<line x1="598.5" y1="414.3" x2="631.1" y2="329.8" stroke="#666" stroke-width="1.9"/>
<line x1="598.5" y1="414.3" x2="631.1" y2="336.5" stroke="#666" stroke-width="1.9"/>
<line x1="598.5" y1="414.3" x2="631.1" y2="344.6" stroke="#666" stroke-width="1.9"/>
<line x1="598.5" y1="414.3" x2="631.1" y2="375.6" stroke="#666" stroke-width="1.9"/>
<line x1="598.5" y1="414.3" x2="631.1" y2="385.2" stroke="#666" stroke-width="1.9"/>
<line x1="598.5" y1="414.3" x2="631.1" y2="392.3" stroke="#666" stroke-width="1.9"/>
<line x1="631.1" y1="134.5" x2="663.9" y2="289.2" stroke="#666" stroke-width="1.9"/>
<line x1="631.1" y1="164.3" x2="663.9" y2="248.8" stroke="#666" stroke-width="1.9"/>
<line x1="631.1" y1="270.0" x2="663.9" y2="366.7" stroke="#666" stroke-width="1.9"/>
<line x1="631.1" y1="320.2" x2="663.9" y2="388.2" stroke="#666" stroke-width="1.9"/>
<line x1="631.1" y1="329.8" x2="663.9" y2="384.5" stroke="#666" stroke-width="1.9"/>
<line x1="631.1" y1="336.5" x2="663.9" y2="397.0" stroke="#666" stroke-width="1.9"/>
<line x1="631.1" y1="344.6" x2="663.9" y2="400.7" stroke="#666" stroke-width="1.9"/>
<line x1="631.1" y1="375.6" x2="663.9" y2="404.4" stroke="#666" stroke-width="1.9"/>
<line x1="631.1" y1="385.2" x2="663.9" y2="408.1" stroke="#666" stroke-width="1.9"/>
<line x1="631.1" y1="392.3" x2="663.9" y2="420.7" stroke="#666" stroke-width="1.9"/>
<circle cx="631.1" cy="134.5" r="3.1" fill="#a6a6a6"/>
<circle cx="631.1" cy="164.3" r="3.1" fill="#a6a6a6"/>
<circle cx="631.1" cy="270.0" r="3.1" fill="#a6a6a6"/>
<circle cx="631.1" cy="320.2" r="3.1" fill="#a6a6a6"/>
<circle cx="631.1" cy="329.8" r="3.1" fill="#a6a6a6"/>
<circle cx="631.1" cy="336.5" r="3.1" fill="#a6a6a6"/>
<circle cx="631.1" cy="344.6" r="3.1" fill="#a6a6a6"/>
<circle cx="631.1" cy="375.6" r="3.1" fill="#a6a6a6"/>
<circle cx="631.1" cy="385.2" r="3.1" fill="#a6a6a6"/>
<circle cx="631.1" cy="392.3" r="3.1" fill="#a6a6a6"/>
<circle cx="663.9" cy="248.8" r="3.1" fill="#a6a6a6"/>
<circle cx="663.9" cy="289.2" r="3.1" fill="#a6a6a6"/>
<circle cx="663.9" cy="366.7" r="3.1" fill="#a6a6a6"/>
<circle cx="663.9" cy="384.5" r="3.1" fill="#a6a6a6"/>
<circle cx="663.9" cy="388.2" r="3.1" fill="#a6a6a6"/>
<circle cx="663.9" cy="397.0" r="3.1" fill="#a6a6a6"/>
<circle cx="663.9" cy="400.7" r="3.1" fill="#a6a6a6"/>
<circle cx="663.9" cy="404.4" r="3.1" fill="#a6a6a6"/>
<circle cx="663.9" cy="408.1" r="3.1" fill="#a6a6a6"/>
<circle cx="663.9" cy="420.7" r="3.1" fill="#a6a6a6"/>
<circle cx="598.5" cy="414.3" r="3.3" fill="#a6a6a6"/>
<line x1="697.8" y1="414.5" x2="715.9" y2="414.5" stroke="#000" stroke-width="6.2" stroke-linecap="round"/>
<line x1="740.6" y1="150.3" x2="740.6" y2="221.5" stroke="#000" stroke-width="3.1"/>
<line x1="740.6" y1="375.2" x2="740.6" y2="400.0" stroke="#000" stroke-width="3.1"/>
<line x1="733.6" y1="150.3" x2="747.6" y2="150.3" stroke="#000" stroke-width="3.4"/>
<line x1="733.6" y1="400.0" x2="747.6" y2="400.0" stroke="#000" stroke-width="3.4"/>
<rect x="731.5" y="221.5" width="18.2" height="153.7" fill="none" stroke="#000" stroke-width="3.2"/>
<line x1="729.9" y1="325.6" x2="751.3" y2="325.6" stroke="#000" stroke-width="3.2" stroke-linecap="round"/>
<line x1="773.6" y1="188.2" x2="773.6" y2="314.0" stroke="#000" stroke-width="3.1"/>
<line x1="773.6" y1="410.0" x2="773.6" y2="417.7" stroke="#000" stroke-width="3.1"/>
<line x1="766.6" y1="188.2" x2="780.6" y2="188.2" stroke="#000" stroke-width="3.4"/>
<line x1="766.6" y1="417.7" x2="780.6" y2="417.7" stroke="#000" stroke-width="3.4"/>
<rect x="764.5" y="314.0" width="18.2" height="96.0" fill="none" stroke="#000" stroke-width="3.2"/>
<line x1="762.9" y1="350.5" x2="784.3" y2="350.5" stroke="#000" stroke-width="3.2" stroke-linecap="round"/>
<line x1="708.0" y1="414.8" x2="740.6" y2="150.3" stroke="#666" stroke-width="1.9"/>
<line x1="708.0" y1="414.8" x2="740.6" y2="193.4" stroke="#666" stroke-width="1.9"/>
<line x1="708.0" y1="414.8" x2="740.6" y2="220.7" stroke="#666" stroke-width="1.9"/>
<line x1="708.0" y1="414.8" x2="740.6" y2="245.6" stroke="#666" stroke-width="1.9"/>
<line x1="708.0" y1="414.8" x2="740.6" y2="288.5" stroke="#666" stroke-width="1.9"/>
<line x1="708.0" y1="414.8" x2="740.6" y2="326.9" stroke="#666" stroke-width="1.9"/>
<line x1="708.0" y1="414.8" x2="740.6" y2="349.5" stroke="#666" stroke-width="1.9"/>
<line x1="708.0" y1="414.8" x2="740.6" y2="377.5" stroke="#666" stroke-width="1.9"/>
<line x1="708.0" y1="414.8" x2="740.6" y2="398.5" stroke="#666" stroke-width="1.9"/>
<line x1="708.0" y1="414.8" x2="740.6" y2="402.2" stroke="#666" stroke-width="1.9"/>
<line x1="740.6" y1="150.3" x2="773.6" y2="347.5" stroke="#666" stroke-width="1.9"/>
<line x1="740.6" y1="193.4" x2="773.6" y2="188.2" stroke="#666" stroke-width="1.9"/>
<line x1="740.6" y1="220.7" x2="773.6" y2="314.3" stroke="#666" stroke-width="1.9"/>
<line x1="740.6" y1="245.6" x2="773.6" y2="290.7" stroke="#666" stroke-width="1.9"/>
<line x1="740.6" y1="288.5" x2="773.6" y2="379.0" stroke="#666" stroke-width="1.9"/>
<line x1="740.6" y1="326.9" x2="773.6" y2="351.0" stroke="#666" stroke-width="1.9"/>
<line x1="740.6" y1="349.5" x2="773.6" y2="388.6" stroke="#666" stroke-width="1.9"/>
<line x1="740.6" y1="377.5" x2="773.6" y2="411.8" stroke="#666" stroke-width="1.9"/>
<line x1="740.6" y1="398.5" x2="773.6" y2="416.2" stroke="#666" stroke-width="1.9"/>
<line x1="740.6" y1="402.2" x2="773.6" y2="420.0" stroke="#666" stroke-width="1.9"/>
<circle cx="740.6" cy="150.3" r="3.1" fill="#a6a6a6"/>
<circle cx="740.6" cy="193.4" r="3.1" fill="#a6a6a6"/>
<circle cx="740.6" cy="220.7" r="3.1" fill="#a6a6a6"/>
<circle cx="740.6" cy="245.6" r="3.1" fill="#a6a6a6"/>
<circle cx="740.6" cy="288.5" r="3.1" fill="#a6a6a6"/>
<circle cx="740.6" cy="326.9" r="3.1" fill="#a6a6a6"/>
<circle cx="740.6" cy="349.5" r="3.1" fill="#a6a6a6"/>
<circle cx="740.6" cy="377.5" r="3.1" fill="#a6a6a6"/>
<circle cx="740.6" cy="398.5" r="3.1" fill="#a6a6a6"/>
<circle cx="740.6" cy="402.2" r="3.1" fill="#a6a6a6"/>
<circle cx="773.6" cy="188.2" r="3.1" fill="#a6a6a6"/>
<circle cx="773.6" cy="290.7" r="3.1" fill="#a6a6a6"/>
<circle cx="773.6" cy="314.3" r="3.1" fill="#a6a6a6"/>
<circle cx="773.6" cy="347.5" r="3.1" fill="#a6a6a6"/>
<circle cx="773.6" cy="351.0" r="3.1" fill="#a6a6a6"/>
<circle cx="773.6" cy="379.0" r="3.1" fill="#a6a6a6"/>
<circle cx="773.6" cy="388.6" r="3.1" fill="#a6a6a6"/>
<circle cx="773.6" cy="411.8" r="3.1" fill="#a6a6a6"/>
<circle cx="773.6" cy="416.2" r="3.1" fill="#a6a6a6"/>
<circle cx="773.6" cy="420.0" r="3.1" fill="#a6a6a6"/>
<circle cx="708.0" cy="414.8" r="3.3" fill="#a6a6a6"/>
<line x1="807.5" y1="414.9" x2="825.6" y2="414.9" stroke="#000" stroke-width="6.2" stroke-linecap="round"/>
<line x1="850.2" y1="182.5" x2="850.2" y2="248.3" stroke="#000" stroke-width="3.1"/>
<line x1="850.2" y1="353.4" x2="850.2" y2="389.6" stroke="#000" stroke-width="3.1"/>
<line x1="843.2" y1="182.5" x2="857.2" y2="182.5" stroke="#000" stroke-width="3.4"/>
<line x1="843.2" y1="389.6" x2="857.2" y2="389.6" stroke="#000" stroke-width="3.4"/>
<rect x="841.1" y="248.3" width="18.2" height="105.1" fill="none" stroke="#000" stroke-width="3.2"/>
<line x1="839.5" y1="264.1" x2="860.9" y2="264.1" stroke="#000" stroke-width="3.2" stroke-linecap="round"/>
<line x1="883.1" y1="305.4" x2="883.1" y2="316.9" stroke="#000" stroke-width="3.1"/>
<line x1="883.1" y1="396.0" x2="883.1" y2="409.7" stroke="#000" stroke-width="3.1"/>
<line x1="876.1" y1="305.4" x2="890.1" y2="305.4" stroke="#000" stroke-width="3.4"/>
<line x1="876.1" y1="409.7" x2="890.1" y2="409.7" stroke="#000" stroke-width="3.4"/>
<rect x="874.0" y="316.9" width="18.2" height="79.1" fill="none" stroke="#000" stroke-width="3.2"/>
<line x1="872.4" y1="363.8" x2="893.8" y2="363.8" stroke="#000" stroke-width="3.2" stroke-linecap="round"/>
<line x1="817.7" y1="415.2" x2="850.2" y2="182.5" stroke="#666" stroke-width="1.9"/>
<line x1="817.7" y1="415.2" x2="850.2" y2="247.4" stroke="#666" stroke-width="1.9"/>
<line x1="817.7" y1="415.2" x2="850.2" y2="264.1" stroke="#666" stroke-width="1.9"/>
<line x1="817.7" y1="415.2" x2="850.2" y2="264.1" stroke="#666" stroke-width="1.9"/>
<line x1="817.7" y1="415.2" x2="850.2" y2="344.3" stroke="#666" stroke-width="1.9"/>
<line x1="817.7" y1="415.2" x2="850.2" y2="352.4" stroke="#666" stroke-width="1.9"/>
<line x1="817.7" y1="415.2" x2="850.2" y2="364.5" stroke="#666" stroke-width="1.9"/>
<line x1="817.7" y1="415.2" x2="850.2" y2="389.6" stroke="#666" stroke-width="1.9"/>
<line x1="850.2" y1="182.5" x2="883.1" y2="305.4" stroke="#666" stroke-width="1.9"/>
<line x1="850.2" y1="264.1" x2="883.1" y2="307.0" stroke="#666" stroke-width="1.9"/>
<line x1="850.2" y1="247.4" x2="883.1" y2="357.5" stroke="#666" stroke-width="1.9"/>
<line x1="850.2" y1="264.1" x2="883.1" y2="364.9" stroke="#666" stroke-width="1.9"/>
<line x1="850.2" y1="344.3" x2="883.1" y2="393.0" stroke="#666" stroke-width="1.9"/>
<line x1="850.2" y1="352.4" x2="883.1" y2="396.7" stroke="#666" stroke-width="1.9"/>
<line x1="850.2" y1="364.5" x2="883.1" y2="402.6" stroke="#666" stroke-width="1.9"/>
<line x1="850.2" y1="389.6" x2="883.1" y2="410.0" stroke="#666" stroke-width="1.9"/>
<line x1="850.2" y1="247.4" x2="883.1" y2="319.9" stroke="#666" stroke-width="1.9"/>
<circle cx="850.2" cy="182.5" r="3.1" fill="#a6a6a6"/>
<circle cx="850.2" cy="247.4" r="3.1" fill="#a6a6a6"/>
<circle cx="850.2" cy="264.1" r="3.1" fill="#a6a6a6"/>
<circle cx="850.2" cy="264.1" r="3.1" fill="#a6a6a6"/>
<circle cx="850.2" cy="344.3" r="3.1" fill="#a6a6a6"/>
<circle cx="850.2" cy="352.4" r="3.1" fill="#a6a6a6"/>
<circle cx="850.2" cy="364.5" r="3.1" fill="#a6a6a6"/>
<circle cx="850.2" cy="389.6" r="3.1" fill="#a6a6a6"/>
<circle cx="883.1" cy="305.4" r="3.1" fill="#a6a6a6"/>
<circle cx="883.1" cy="319.9" r="3.1" fill="#a6a6a6"/>
<circle cx="883.1" cy="357.5" r="3.1" fill="#a6a6a6"/>
<circle cx="883.1" cy="364.9" r="3.1" fill="#a6a6a6"/>
<circle cx="883.1" cy="393.0" r="3.1" fill="#a6a6a6"/>
<circle cx="883.1" cy="396.7" r="3.1" fill="#a6a6a6"/>
<circle cx="883.1" cy="402.6" r="3.1" fill="#a6a6a6"/>
<circle cx="883.1" cy="410.0" r="3.1" fill="#a6a6a6"/>
<circle cx="817.7" cy="415.2" r="3.3" fill="#a6a6a6"/>
<circle cx="850.2" cy="414.1" r="1.4" fill="#000"/>
<text x="607.0" y="461.0" font-size="25" font-weight="700" text-anchor="end" transform="rotate(-45 607.0 461.0)">baseline</text>
<text x="639.6" y="458.0" font-size="25" font-weight="700" text-anchor="end" transform="rotate(-45 639.6 458.0)">KCl</text>
<text x="672.4" y="457.0" font-size="25" font-weight="700" text-anchor="end" transform="rotate(-45 672.4 457.0)">washout</text>
<text x="716.5" y="461.0" font-size="25" font-weight="700" text-anchor="end" transform="rotate(-45 716.5 461.0)">baseline</text>
<text x="749.1" y="458.0" font-size="25" font-weight="700" text-anchor="end" transform="rotate(-45 749.1 458.0)">KCl</text>
<text x="782.1" y="457.0" font-size="25" font-weight="700" text-anchor="end" transform="rotate(-45 782.1 457.0)">washout</text>
<text x="826.2" y="461.0" font-size="25" font-weight="700" text-anchor="end" transform="rotate(-45 826.2 461.0)">baseline</text>
<text x="858.7" y="458.0" font-size="25" font-weight="700" text-anchor="end" transform="rotate(-45 858.7 458.0)">KCl</text>
<text x="891.6" y="457.0" font-size="25" font-weight="700" text-anchor="end" transform="rotate(-45 891.6 457.0)">washout</text>
<line x1="1107.0" y1="257.0" x2="1270.8" y2="257.0" stroke="#333" stroke-width="1.1"/>
<line x1="1107.0" y1="256.8" x2="1251.2" y2="279.0" stroke="#783e98" stroke-width="1.45"/>
<line x1="1107.0" y1="256.8" x2="1251.2" y2="376.3" stroke="#783e98" stroke-width="1.45"/>
<rect x="1196.1" y="243.8" width="9.6" height="9.6" fill="#783e98"/>
<rect x="1204.1" y="246.8" width="9.6" height="9.6" fill="#783e98"/>
<rect x="1193.3" y="256.3" width="9.6" height="9.6" fill="#783e98"/>
<rect x="1161.0" y="273.1" width="9.6" height="9.6" fill="#783e98"/>
<rect x="1153.0" y="301.6" width="9.6" height="9.6" fill="#783e98"/>
<rect x="1171.0" y="320.3" width="9.6" height="9.6" fill="#783e98"/>
<rect x="1153.4" y="351.5" width="9.6" height="9.6" fill="#783e98"/>
<rect x="1184.6" y="376.1" width="9.6" height="9.6" fill="#783e98"/>
<rect x="1214.9" y="314.9" width="9.6" height="9.6" fill="#783e98"/>
<rect x="1233.5" y="299.5" width="9.6" height="9.6" fill="#783e98"/>
<rect x="1247.8" y="335.1" width="9.6" height="9.6" fill="#783e98"/>
<line x1="1108.0" y1="256.8" x2="1251.2" y2="326.9" stroke="#783e98" stroke-width="7" stroke-linecap="round"/>
<line x1="1107.0" y1="90.9" x2="1107.0" y2="422.6" stroke="#000" stroke-width="3.3"/>
<line x1="1105.3" y1="421.0" x2="1272.5" y2="421.0" stroke="#000" stroke-width="3.3"/>
<line x1="1092.0" y1="421.0" x2="1107.0" y2="421.0" stroke="#000" stroke-width="3.3"/>
<text x="1088.9" y="429.8" font-size="24.3" font-weight="700" text-anchor="end">0.0</text>
<line x1="1092.0" y1="338.9" x2="1107.0" y2="338.9" stroke="#000" stroke-width="3.3"/>
<text x="1088.9" y="347.7" font-size="24.3" font-weight="700" text-anchor="end">0.5</text>
<line x1="1092.0" y1="256.8" x2="1107.0" y2="256.8" stroke="#000" stroke-width="3.3"/>
<text x="1088.9" y="265.6" font-size="24.3" font-weight="700" text-anchor="end">1.0</text>
<line x1="1092.0" y1="174.7" x2="1107.0" y2="174.7" stroke="#000" stroke-width="3.3"/>
<text x="1088.9" y="183.5" font-size="24.3" font-weight="700" text-anchor="end">1.5</text>
<line x1="1092.0" y1="92.6" x2="1107.0" y2="92.6" stroke="#000" stroke-width="3.3"/>
<text x="1088.9" y="101.4" font-size="24.3" font-weight="700" text-anchor="end">2.0</text>
<line x1="1107.0" y1="421.0" x2="1107.0" y2="435.8" stroke="#000" stroke-width="3.3"/>
<text x="1107.0" y="462.2" font-size="24.3" font-weight="700" text-anchor="middle">0</text>
<line x1="1134.3" y1="421.0" x2="1134.3" y2="429.5" stroke="#000" stroke-width="3.3"/>
<line x1="1161.6" y1="421.0" x2="1161.6" y2="435.8" stroke="#000" stroke-width="3.3"/>
<text x="1161.6" y="462.2" font-size="24.3" font-weight="700" text-anchor="middle">10</text>
<line x1="1188.9" y1="421.0" x2="1188.9" y2="429.5" stroke="#000" stroke-width="3.3"/>
<line x1="1216.2" y1="421.0" x2="1216.2" y2="435.8" stroke="#000" stroke-width="3.3"/>
<text x="1216.2" y="462.2" font-size="24.3" font-weight="700" text-anchor="middle">20</text>
<line x1="1243.5" y1="421.0" x2="1243.5" y2="429.5" stroke="#000" stroke-width="3.3"/>
<line x1="1270.8" y1="421.0" x2="1270.8" y2="435.8" stroke="#000" stroke-width="3.3"/>
<text x="1270.8" y="462.2" font-size="24.3" font-weight="700" text-anchor="middle">30</text>
<text x="1190.9" y="494.3" font-size="27.1" font-weight="700" text-anchor="middle">GCaMP AUC</text>
<text x="1192.5" y="113.1" font-size="32" text-anchor="middle">Foro</text>
<text x="1006.5" y="256.4" font-size="24.8" font-weight="700" text-anchor="middle" transform="rotate(-90 1006.5 256.4)">relative metabolite level</text>
<text x="1035.2" y="255.5" font-size="24.8" text-anchor="middle" transform="rotate(-90 1035.2 255.5)">[ctrl = 1]</text>
<line x1="1381.2" y1="257.5" x2="1544.6" y2="257.5" stroke="#111" stroke-width="1.1"/>
<line x1="1381.2" y1="257.3" x2="1523.6" y2="270.9" stroke="#ef7f1b" stroke-width="1.45"/>
<line x1="1381.2" y1="257.3" x2="1523.6" y2="353.8" stroke="#ef7f1b" stroke-width="1.45"/>
<polygon points="1464.3,261.5 1477.1,261.5 1470.7,249.1" fill="#ef7f1b"/>
<polygon points="1481.4,257.5 1494.2,257.5 1487.8,245.1" fill="#ef7f1b"/>
<polygon points="1488.1,264.5 1500.9,264.5 1494.5,252.1" fill="#ef7f1b"/>
<polygon points="1470.6,287.4 1483.4,287.4 1477.0,275.0" fill="#ef7f1b"/>
<polygon points="1482.8,284.4 1495.6,284.4 1489.2,272.0" fill="#ef7f1b"/>
<polygon points="1451.9,311.0 1464.7,311.0 1458.3,298.6" fill="#ef7f1b"/>
<polygon points="1435.4,318.0 1448.2,318.0 1441.8,305.6" fill="#ef7f1b"/>
<polygon points="1494.7,340.2 1507.5,340.2 1501.1,327.8" fill="#ef7f1b"/>
<polygon points="1430.1,354.7 1442.9,354.7 1436.5,342.3" fill="#ef7f1b"/>
<polygon points="1518.5,363.3 1531.3,363.3 1524.9,350.9" fill="#ef7f1b"/>
<line x1="1382.2" y1="257.3" x2="1523.6" y2="312.3" stroke="#ef7f1b" stroke-width="7" stroke-linecap="round"/>
<line x1="1381.2" y1="91.5" x2="1381.2" y2="423.0" stroke="#000" stroke-width="3.3"/>
<line x1="1379.5" y1="421.4" x2="1546.2" y2="421.4" stroke="#000" stroke-width="3.3"/>
<line x1="1366.2" y1="421.4" x2="1381.2" y2="421.4" stroke="#000" stroke-width="3.3"/>
<text x="1363.1" y="430.2" font-size="24.3" font-weight="700" text-anchor="end">0.0</text>
<line x1="1366.2" y1="339.3" x2="1381.2" y2="339.3" stroke="#000" stroke-width="3.3"/>
<text x="1363.1" y="348.1" font-size="24.3" font-weight="700" text-anchor="end">0.5</text>
<line x1="1366.2" y1="257.3" x2="1381.2" y2="257.3" stroke="#000" stroke-width="3.3"/>
<text x="1363.1" y="266.1" font-size="24.3" font-weight="700" text-anchor="end">1.0</text>
<line x1="1366.2" y1="175.2" x2="1381.2" y2="175.2" stroke="#000" stroke-width="3.3"/>
<text x="1363.1" y="184.1" font-size="24.3" font-weight="700" text-anchor="end">1.5</text>
<line x1="1366.2" y1="93.2" x2="1381.2" y2="93.2" stroke="#000" stroke-width="3.3"/>
<text x="1363.1" y="102.0" font-size="24.3" font-weight="700" text-anchor="end">2.0</text>
<line x1="1381.2" y1="421.4" x2="1381.2" y2="436.2" stroke="#000" stroke-width="3.3"/>
<text x="1381.2" y="462.6" font-size="24.3" font-weight="700" text-anchor="middle">0</text>
<line x1="1408.4" y1="421.4" x2="1408.4" y2="429.9" stroke="#000" stroke-width="3.3"/>
<line x1="1435.7" y1="421.4" x2="1435.7" y2="436.2" stroke="#000" stroke-width="3.3"/>
<text x="1435.7" y="462.6" font-size="24.3" font-weight="700" text-anchor="middle">10</text>
<line x1="1462.9" y1="421.4" x2="1462.9" y2="429.9" stroke="#000" stroke-width="3.3"/>
<line x1="1490.1" y1="421.4" x2="1490.1" y2="436.2" stroke="#000" stroke-width="3.3"/>
<text x="1490.1" y="462.6" font-size="24.3" font-weight="700" text-anchor="middle">20</text>
<line x1="1517.4" y1="421.4" x2="1517.4" y2="429.9" stroke="#000" stroke-width="3.3"/>
<line x1="1544.6" y1="421.4" x2="1544.6" y2="436.2" stroke="#000" stroke-width="3.3"/>
<text x="1544.6" y="462.6" font-size="24.3" font-weight="700" text-anchor="middle">30</text>
<text x="1464.9" y="494.7" font-size="27.1" font-weight="700" text-anchor="middle">GCaMP AUC</text>
<text x="1464.0" y="113.1" font-size="32" text-anchor="middle">G6PDi</text>
<line x1="1722.0" y1="266.3" x2="1886.5" y2="266.3" stroke="#111" stroke-width="1.1"/>
<line x1="1722.0" y1="266.1" x2="1866.4" y2="307.8" stroke="#783e98" stroke-width="1.45"/>
<line x1="1722.0" y1="266.1" x2="1866.4" y2="409.5" stroke="#783e98" stroke-width="1.45"/>
<rect x="1768.2" y="253.8" width="9.6" height="9.6" fill="#783e98"/>
<rect x="1786.0" y="274.3" width="9.6" height="9.6" fill="#783e98"/>
<rect x="1799.6" y="278.4" width="9.6" height="9.6" fill="#783e98"/>
<rect x="1830.2" y="276.7" width="9.6" height="9.6" fill="#783e98"/>
<rect x="1808.1" y="324.6" width="9.6" height="9.6" fill="#783e98"/>
<rect x="1848.8" y="333.9" width="9.6" height="9.6" fill="#783e98"/>
<rect x="1862.9" y="342.4" width="9.6" height="9.6" fill="#783e98"/>
<rect x="1810.9" y="353.5" width="9.6" height="9.6" fill="#783e98"/>
<rect x="1818.9" y="365.0" width="9.6" height="9.6" fill="#783e98"/>
<rect x="1768.5" y="373.5" width="9.6" height="9.6" fill="#783e98"/>
<rect x="1776.0" y="390.1" width="9.6" height="9.6" fill="#783e98"/>
<line x1="1723.0" y1="266.1" x2="1866.4" y2="358.8" stroke="#783e98" stroke-width="7.6" stroke-linecap="round"/>
<line x1="1722.0" y1="100.3" x2="1722.0" y2="431.9" stroke="#000" stroke-width="3.5"/>
<line x1="1720.2" y1="430.1" x2="1888.2" y2="430.1" stroke="#000" stroke-width="3.5"/>
<line x1="1706.0" y1="430.1" x2="1722.0" y2="430.1" stroke="#000" stroke-width="3.5"/>
<text x="1702.9" y="438.9" font-size="24.3" font-weight="700" text-anchor="end">0.0</text>
<line x1="1706.0" y1="348.1" x2="1722.0" y2="348.1" stroke="#000" stroke-width="3.5"/>
<text x="1702.9" y="356.9" font-size="24.3" font-weight="700" text-anchor="end">0.5</text>
<line x1="1706.0" y1="266.1" x2="1722.0" y2="266.1" stroke="#000" stroke-width="3.5"/>
<text x="1702.9" y="274.9" font-size="24.3" font-weight="700" text-anchor="end">1.0</text>
<line x1="1706.0" y1="184.1" x2="1722.0" y2="184.1" stroke="#000" stroke-width="3.5"/>
<text x="1702.9" y="192.9" font-size="24.3" font-weight="700" text-anchor="end">1.5</text>
<line x1="1706.0" y1="102.1" x2="1722.0" y2="102.1" stroke="#000" stroke-width="3.5"/>
<text x="1702.9" y="110.9" font-size="24.3" font-weight="700" text-anchor="end">2.0</text>
<line x1="1722.0" y1="430.1" x2="1722.0" y2="445.5" stroke="#000" stroke-width="3.5"/>
<text x="1722.0" y="471.3" font-size="24.3" font-weight="700" text-anchor="middle">0</text>
<line x1="1749.4" y1="430.1" x2="1749.4" y2="439.3" stroke="#000" stroke-width="3.5"/>
<line x1="1776.8" y1="430.1" x2="1776.8" y2="445.5" stroke="#000" stroke-width="3.5"/>
<text x="1776.8" y="471.3" font-size="24.3" font-weight="700" text-anchor="middle">10</text>
<line x1="1804.2" y1="430.1" x2="1804.2" y2="439.3" stroke="#000" stroke-width="3.5"/>
<line x1="1831.7" y1="430.1" x2="1831.7" y2="445.5" stroke="#000" stroke-width="3.5"/>
<text x="1831.7" y="471.3" font-size="24.3" font-weight="700" text-anchor="middle">20</text>
<line x1="1859.1" y1="430.1" x2="1859.1" y2="439.3" stroke="#000" stroke-width="3.5"/>
<line x1="1886.5" y1="430.1" x2="1886.5" y2="445.5" stroke="#000" stroke-width="3.5"/>
<text x="1886.5" y="471.3" font-size="24.3" font-weight="700" text-anchor="middle">30</text>
<text x="1805.5" y="502.3" font-size="27.1" font-weight="700" text-anchor="middle">GCaMP AUC</text>
<text x="1803.5" y="121.5" font-size="32" text-anchor="middle">Foro</text>
<text x="1622.7" y="265.2" font-size="24.8" font-weight="700" text-anchor="middle" transform="rotate(-90 1622.7 265.2)">relative metabolite level</text>
<text x="1652.0" y="264.5" font-size="24.8" text-anchor="middle" transform="rotate(-90 1652.0 264.5)">[ctrl = 1]</text>
<line x1="1988.5" y1="266.3" x2="2152.5" y2="266.3" stroke="#555" stroke-width="1.1"/>
<line x1="1988.5" y1="266.1" x2="2131.6" y2="181.9" stroke="#ef7f1b" stroke-width="1.45"/>
<line x1="1988.5" y1="266.1" x2="2131.6" y2="335.3" stroke="#ef7f1b" stroke-width="1.45"/>
<polygon points="2072.3,156.3 2085.1,156.3 2078.7,143.9" fill="#ef7f1b"/>
<polygon points="2078.6,175.4 2091.4,175.4 2085.0,163.0" fill="#ef7f1b"/>
<polygon points="2126.5,198.5 2139.3,198.5 2132.9,186.1" fill="#ef7f1b"/>
<polygon points="2037.9,247.2 2050.7,247.2 2044.3,234.8" fill="#ef7f1b"/>
<polygon points="2043.7,249.4 2056.5,249.4 2050.1,237.0" fill="#ef7f1b"/>
<polygon points="2096.1,271.8 2108.9,271.8 2102.5,259.4" fill="#ef7f1b"/>
<polygon points="2102.7,306.6 2115.5,306.6 2109.1,294.2" fill="#ef7f1b"/>
<polygon points="2060.0,327.8 2072.8,327.8 2066.4,315.4" fill="#ef7f1b"/>
<polygon points="2089.4,349.3 2102.2,349.3 2095.8,336.9" fill="#ef7f1b"/>
<polygon points="2090.6,380.0 2103.4,380.0 2097.0,367.6" fill="#ef7f1b"/>
<line x1="1989.5" y1="266.1" x2="2131.6" y2="258.8" stroke="#ef7f1b" stroke-width="6.7" stroke-linecap="round"/>
<line x1="1988.5" y1="100.5" x2="1988.5" y2="431.6" stroke="#000" stroke-width="3.3"/>
<line x1="1986.8" y1="430.0" x2="2154.2" y2="430.0" stroke="#000" stroke-width="3.3"/>
<line x1="1973.5" y1="430.0" x2="1988.5" y2="430.0" stroke="#000" stroke-width="3.3"/>
<text x="1970.4" y="438.8" font-size="24.3" font-weight="700" text-anchor="end">0.0</text>
<line x1="1973.5" y1="348.1" x2="1988.5" y2="348.1" stroke="#000" stroke-width="3.3"/>
<text x="1970.4" y="356.9" font-size="24.3" font-weight="700" text-anchor="end">0.5</text>
<line x1="1973.5" y1="266.1" x2="1988.5" y2="266.1" stroke="#000" stroke-width="3.3"/>
<text x="1970.4" y="274.9" font-size="24.3" font-weight="700" text-anchor="end">1.0</text>
<line x1="1973.5" y1="184.1" x2="1988.5" y2="184.1" stroke="#000" stroke-width="3.3"/>
<text x="1970.4" y="192.9" font-size="24.3" font-weight="700" text-anchor="end">1.5</text>
<line x1="1973.5" y1="102.2" x2="1988.5" y2="102.2" stroke="#000" stroke-width="3.3"/>
<text x="1970.4" y="111.0" font-size="24.3" font-weight="700" text-anchor="end">2.0</text>
<line x1="1988.5" y1="430.0" x2="1988.5" y2="444.8" stroke="#000" stroke-width="3.3"/>
<text x="1988.5" y="471.2" font-size="24.3" font-weight="700" text-anchor="middle">0</text>
<line x1="2015.8" y1="430.0" x2="2015.8" y2="438.5" stroke="#000" stroke-width="3.3"/>
<line x1="2043.2" y1="430.0" x2="2043.2" y2="444.8" stroke="#000" stroke-width="3.3"/>
<text x="2043.2" y="471.2" font-size="24.3" font-weight="700" text-anchor="middle">10</text>
<line x1="2070.5" y1="430.0" x2="2070.5" y2="438.5" stroke="#000" stroke-width="3.3"/>
<line x1="2097.8" y1="430.0" x2="2097.8" y2="444.8" stroke="#000" stroke-width="3.3"/>
<text x="2097.8" y="471.2" font-size="24.3" font-weight="700" text-anchor="middle">20</text>
<line x1="2125.2" y1="430.0" x2="2125.2" y2="438.5" stroke="#000" stroke-width="3.3"/>
<line x1="2152.5" y1="430.0" x2="2152.5" y2="444.8" stroke="#000" stroke-width="3.3"/>
<text x="2152.5" y="471.2" font-size="24.3" font-weight="700" text-anchor="middle">30</text>
<text x="2072.5" y="502.4" font-size="27.1" font-weight="700" text-anchor="middle">GCaMP AUC</text>
<text x="2070.1" y="121.9" font-size="32" text-anchor="middle">G6PDi</text>
<line x1="158.8" y1="650.3" x2="158.8" y2="981.3" stroke="#000" stroke-width="3.3"/>
<line x1="156.7" y1="979.6" x2="325.5" y2="979.6" stroke="#000" stroke-width="3.3"/>
<line x1="144.3" y1="979.3" x2="158.8" y2="979.3" stroke="#000" stroke-width="3.3"/>
<text x="141.9" y="989.3" font-size="25.3" font-weight="700" text-anchor="end">0.0</text>
<line x1="144.3" y1="897.4" x2="158.8" y2="897.4" stroke="#000" stroke-width="3.3"/>
<text x="141.9" y="907.4" font-size="25.3" font-weight="700" text-anchor="end">0.5</text>
<line x1="144.3" y1="815.6" x2="158.8" y2="815.6" stroke="#000" stroke-width="3.3"/>
<text x="141.9" y="825.6" font-size="25.3" font-weight="700" text-anchor="end">1.0</text>
<line x1="144.3" y1="733.8" x2="158.8" y2="733.8" stroke="#000" stroke-width="3.3"/>
<text x="141.9" y="743.8" font-size="25.3" font-weight="700" text-anchor="end">1.5</text>
<line x1="144.3" y1="651.9" x2="158.8" y2="651.9" stroke="#000" stroke-width="3.3"/>
<text x="141.9" y="661.9" font-size="25.3" font-weight="700" text-anchor="end">2.0</text>
<text x="61.3" y="815.2" font-size="24.8" font-weight="700" text-anchor="middle" transform="rotate(-90 61.3 815.2)">relative metabolite level</text>
<text x="91.0" y="814.5" font-size="24.8" text-anchor="middle" transform="rotate(-90 91.0 814.5)">[ctrl = 1]</text>
<line x1="191.8" y1="694.8" x2="191.8" y2="770.0" stroke="#000" stroke-width="1.6"/>
<line x1="191.8" y1="871.1" x2="191.8" y2="881.3" stroke="#000" stroke-width="1.6"/>
<line x1="183.1" y1="694.8" x2="200.5" y2="694.8" stroke="#000" stroke-width="1.7"/>
<line x1="183.1" y1="881.3" x2="200.5" y2="881.3" stroke="#000" stroke-width="1.7"/>
<rect x="176.1" y="770.0" width="31.6" height="101.1" fill="none" stroke="#000" stroke-width="1.6"/>
<line x1="174.9" y1="847.3" x2="208.9" y2="847.3" stroke="#000" stroke-width="1.6"/>
<circle cx="191.8" cy="694.8" r="4.1" fill="#000"/>
<circle cx="191.8" cy="718.8" r="4.1" fill="#000"/>
<circle cx="191.8" cy="770.0" r="4.1" fill="#000"/>
<circle cx="191.8" cy="816.7" r="4.1" fill="#000"/>
<circle cx="185.3" cy="844.2" r="4.1" fill="#000"/>
<circle cx="198.2" cy="847.1" r="4.1" fill="#000"/>
<circle cx="185.3" cy="857.8" r="4.1" fill="#000"/>
<circle cx="198.2" cy="862.7" r="4.1" fill="#000"/>
<circle cx="191.8" cy="872.1" r="4.1" fill="#000"/>
<circle cx="185.3" cy="882.2" r="4.1" fill="#000"/>
<circle cx="198.2" cy="880.9" r="4.1" fill="#000"/>
<line x1="240.9" y1="723.4" x2="240.9" y2="789.4" stroke="#783e98" stroke-width="1.6"/>
<line x1="240.9" y1="908.5" x2="240.9" y2="955.8" stroke="#783e98" stroke-width="1.6"/>
<line x1="232.2" y1="723.4" x2="249.6" y2="723.4" stroke="#783e98" stroke-width="1.7"/>
<line x1="232.2" y1="955.8" x2="249.6" y2="955.8" stroke="#783e98" stroke-width="1.7"/>
<rect x="225.0" y="789.4" width="31.8" height="119.1" fill="none" stroke="#783e98" stroke-width="1.6"/>
<line x1="223.8" y1="867.0" x2="258.0" y2="867.0" stroke="#783e98" stroke-width="1.6"/>
<rect x="236.7" y="719.2" width="8.4" height="8.4" fill="#783e98"/>
<rect x="236.7" y="771.9" width="8.4" height="8.4" fill="#783e98"/>
<rect x="236.7" y="784.4" width="8.4" height="8.4" fill="#783e98"/>
<rect x="236.7" y="815.7" width="8.4" height="8.4" fill="#783e98"/>
<rect x="236.7" y="848.0" width="8.4" height="8.4" fill="#783e98"/>
<rect x="236.7" y="862.8" width="8.4" height="8.4" fill="#783e98"/>
<rect x="236.7" y="874.9" width="8.4" height="8.4" fill="#783e98"/>
<rect x="236.7" y="889.5" width="8.4" height="8.4" fill="#783e98"/>
<rect x="236.7" y="905.2" width="8.4" height="8.4" fill="#783e98"/>
<rect x="236.7" y="919.2" width="8.4" height="8.4" fill="#783e98"/>
<rect x="236.7" y="951.6" width="8.4" height="8.4" fill="#783e98"/>
<line x1="290.3" y1="716.0" x2="290.3" y2="751.1" stroke="#ef7f1b" stroke-width="1.6"/>
<line x1="290.3" y1="839.0" x2="290.3" y2="929.3" stroke="#ef7f1b" stroke-width="1.6"/>
<line x1="281.6" y1="716.0" x2="299.0" y2="716.0" stroke="#ef7f1b" stroke-width="1.7"/>
<line x1="281.6" y1="929.3" x2="299.0" y2="929.3" stroke="#ef7f1b" stroke-width="1.7"/>
<rect x="274.2" y="751.1" width="32.1" height="87.9" fill="none" stroke="#ef7f1b" stroke-width="1.6"/>
<line x1="273.0" y1="777.4" x2="307.5" y2="777.4" stroke="#ef7f1b" stroke-width="1.6"/>
<polygon points="284.8,721.3 295.8,721.3 290.3,710.7" fill="#ef7f1b"/>
<polygon points="272.7,757.4 283.7,757.4 278.2,746.8" fill="#ef7f1b"/>
<polygon points="284.8,755.1 295.8,755.1 290.3,744.5" fill="#ef7f1b"/>
<polygon points="296.4,753.3 307.4,753.3 301.9,742.7" fill="#ef7f1b"/>
<polygon points="284.8,780.1 295.8,780.1 290.3,769.5" fill="#ef7f1b"/>
<polygon points="296.4,782.7 307.4,782.7 301.9,772.1" fill="#ef7f1b"/>
<polygon points="284.8,790.6 295.8,790.6 290.3,780.0" fill="#ef7f1b"/>
<polygon points="278.7,845.3 289.7,845.3 284.2,834.7" fill="#ef7f1b"/>
<polygon points="290.9,843.1 301.9,843.1 296.4,832.5" fill="#ef7f1b"/>
<polygon points="284.8,855.3 295.8,855.3 290.3,844.7" fill="#ef7f1b"/>
<polygon points="284.8,935.6 295.8,935.6 290.3,925.0" fill="#ef7f1b"/>
<text x="201.1" y="1023.0" font-size="25" font-weight="700" text-anchor="end" transform="rotate(-45 201.1 1023.0)">ctrl</text>
<text x="250.2" y="1023.0" font-size="25" font-weight="700" text-anchor="end" transform="rotate(-45 250.2 1023.0)">Foro</text>
<text x="299.6" y="1023.0" font-size="25" font-weight="700" text-anchor="end" transform="rotate(-45 299.6 1023.0)">G6PDi</text>
<line x1="475.4" y1="815.7" x2="639.7" y2="815.7" stroke="#111" stroke-width="1.1"/>
<line x1="475.4" y1="815.5" x2="620.5" y2="784.5" stroke="#783e98" stroke-width="1.45"/>
<line x1="475.4" y1="815.5" x2="620.5" y2="932.6" stroke="#783e98" stroke-width="1.45"/>
<rect x="553.1" y="717.9" width="9.6" height="9.6" fill="#783e98"/>
<rect x="562.2" y="770.7" width="9.6" height="9.6" fill="#783e98"/>
<rect x="521.9" y="783.3" width="9.6" height="9.6" fill="#783e98"/>
<rect x="572.2" y="814.6" width="9.6" height="9.6" fill="#783e98"/>
<rect x="602.2" y="810.4" width="9.6" height="9.6" fill="#783e98"/>
<rect x="564.5" y="846.9" width="9.6" height="9.6" fill="#783e98"/>
<rect x="616.2" y="861.3" width="9.6" height="9.6" fill="#783e98"/>
<rect x="529.3" y="888.0" width="9.6" height="9.6" fill="#783e98"/>
<rect x="522.1" y="903.7" width="9.6" height="9.6" fill="#783e98"/>
<rect x="583.6" y="917.9" width="9.6" height="9.6" fill="#783e98"/>
<rect x="539.7" y="950.5" width="9.6" height="9.6" fill="#783e98"/>
<line x1="476.4" y1="815.5" x2="620.5" y2="858.1" stroke="#783e98" stroke-width="6.5" stroke-linecap="round"/>
<line x1="475.4" y1="650.0" x2="475.4" y2="981.0" stroke="#000" stroke-width="3.3"/>
<line x1="473.8" y1="979.4" x2="641.4" y2="979.4" stroke="#000" stroke-width="3.3"/>
<line x1="460.4" y1="979.4" x2="475.4" y2="979.4" stroke="#000" stroke-width="3.3"/>
<text x="457.3" y="988.2" font-size="24.3" font-weight="700" text-anchor="end">0.0</text>
<line x1="460.4" y1="897.5" x2="475.4" y2="897.5" stroke="#000" stroke-width="3.3"/>
<text x="457.3" y="906.2" font-size="24.3" font-weight="700" text-anchor="end">0.5</text>
<line x1="460.4" y1="815.5" x2="475.4" y2="815.5" stroke="#000" stroke-width="3.3"/>
<text x="457.3" y="824.3" font-size="24.3" font-weight="700" text-anchor="end">1.0</text>
<line x1="460.4" y1="733.5" x2="475.4" y2="733.5" stroke="#000" stroke-width="3.3"/>
<text x="457.3" y="742.3" font-size="24.3" font-weight="700" text-anchor="end">1.5</text>
<line x1="460.4" y1="651.6" x2="475.4" y2="651.6" stroke="#000" stroke-width="3.3"/>
<text x="457.3" y="660.4" font-size="24.3" font-weight="700" text-anchor="end">2.0</text>
<line x1="475.4" y1="979.4" x2="475.4" y2="994.2" stroke="#000" stroke-width="3.3"/>
<text x="475.4" y="1020.6" font-size="24.3" font-weight="700" text-anchor="middle">0</text>
<line x1="502.8" y1="979.4" x2="502.8" y2="987.9" stroke="#000" stroke-width="3.3"/>
<line x1="530.2" y1="979.4" x2="530.2" y2="994.2" stroke="#000" stroke-width="3.3"/>
<text x="530.2" y="1020.6" font-size="24.3" font-weight="700" text-anchor="middle">10</text>
<line x1="557.5" y1="979.4" x2="557.5" y2="987.9" stroke="#000" stroke-width="3.3"/>
<line x1="584.9" y1="979.4" x2="584.9" y2="994.2" stroke="#000" stroke-width="3.3"/>
<text x="584.9" y="1020.6" font-size="24.3" font-weight="700" text-anchor="middle">20</text>
<line x1="612.3" y1="979.4" x2="612.3" y2="987.9" stroke="#000" stroke-width="3.3"/>
<line x1="639.7" y1="979.4" x2="639.7" y2="994.2" stroke="#000" stroke-width="3.3"/>
<text x="639.7" y="1020.6" font-size="24.3" font-weight="700" text-anchor="middle">30</text>
<text x="559.5" y="1052.7" font-size="27.1" font-weight="700" text-anchor="middle">GCaMP AUC</text>
<text x="561.0" y="671.6" font-size="32" text-anchor="middle">Foro</text>
<text x="376.2" y="815.0" font-size="24.8" font-weight="700" text-anchor="middle" transform="rotate(-90 376.2 815.0)">relative metabolite level</text>
<text x="406.2" y="814.5" font-size="24.8" text-anchor="middle" transform="rotate(-90 406.2 814.5)">[ctrl = 1]</text>
<line x1="754.8" y1="816.0" x2="887.1" y2="816.0" stroke="#000" stroke-width="3.8" stroke-linecap="round" stroke-dasharray="0 9.95"/>
<line x1="726.8" y1="815.8" x2="867.9" y2="718.6" stroke="#ef7f1b" stroke-width="2.1"/>
<line x1="726.8" y1="815.8" x2="867.9" y2="846.0" stroke="#ef7f1b" stroke-width="2.1"/>
<polygon points="816.3,722.2 829.1,722.2 822.7,709.8" fill="#ef7f1b"/>
<polygon points="809.8,754.5 822.6,754.5 816.2,742.1" fill="#ef7f1b"/>
<polygon points="827.9,757.4 840.7,757.4 834.3,745.0" fill="#ef7f1b"/>
<polygon points="834.3,755.8 847.1,755.8 840.7,743.4" fill="#ef7f1b"/>
<polygon points="840.3,780.4 853.1,780.4 846.7,768.0" fill="#ef7f1b"/>
<polygon points="796.9,791.2 809.7,791.2 803.3,778.8" fill="#ef7f1b"/>
<polygon points="864.1,815.0 876.9,815.0 870.5,802.6" fill="#ef7f1b"/>
<polygon points="781.9,843.4 794.7,843.4 788.3,831.0" fill="#ef7f1b"/>
<polygon points="775.7,855.6 788.5,855.6 782.1,843.2" fill="#ef7f1b"/>
<polygon points="827.1,935.1 839.9,935.1 833.5,922.7" fill="#ef7f1b"/>
<line x1="727.8" y1="815.8" x2="867.9" y2="783.2" stroke="#ef7f1b" stroke-width="11.6"/>
<line x1="726.8" y1="649.2" x2="726.8" y2="982.2" stroke="#000" stroke-width="5.5"/>
<line x1="724.0" y1="979.5" x2="892.9" y2="979.5" stroke="#000" stroke-width="5.5"/>
<line x1="711.8" y1="979.5" x2="726.8" y2="979.5" stroke="#000" stroke-width="4.5"/>
<text x="708.7" y="988.3" font-size="24.3" font-weight="700" text-anchor="end">0.0</text>
<line x1="711.8" y1="897.6" x2="726.8" y2="897.6" stroke="#000" stroke-width="4.5"/>
<text x="708.7" y="906.4" font-size="24.3" font-weight="700" text-anchor="end">0.5</text>
<line x1="711.8" y1="815.8" x2="726.8" y2="815.8" stroke="#000" stroke-width="4.5"/>
<text x="708.7" y="824.5" font-size="24.3" font-weight="700" text-anchor="end">1.0</text>
<line x1="711.8" y1="733.9" x2="726.8" y2="733.9" stroke="#000" stroke-width="4.5"/>
<text x="708.7" y="742.7" font-size="24.3" font-weight="700" text-anchor="end">1.5</text>
<line x1="711.8" y1="652.0" x2="726.8" y2="652.0" stroke="#000" stroke-width="4.5"/>
<text x="708.7" y="660.8" font-size="24.3" font-weight="700" text-anchor="end">2.0</text>
<line x1="726.8" y1="979.5" x2="726.8" y2="993.9" stroke="#000" stroke-width="4.5"/>
<text x="726.8" y="1020.7" font-size="24.3" font-weight="700" text-anchor="middle">0</text>
<line x1="754.0" y1="979.5" x2="754.0" y2="987.5" stroke="#000" stroke-width="4.5"/>
<line x1="781.2" y1="979.5" x2="781.2" y2="993.9" stroke="#000" stroke-width="4.5"/>
<text x="781.2" y="1020.7" font-size="24.3" font-weight="700" text-anchor="middle">10</text>
<line x1="808.5" y1="979.5" x2="808.5" y2="987.5" stroke="#000" stroke-width="4.5"/>
<line x1="835.7" y1="979.5" x2="835.7" y2="993.9" stroke="#000" stroke-width="4.5"/>
<text x="835.7" y="1020.7" font-size="24.3" font-weight="700" text-anchor="middle">20</text>
<line x1="862.9" y1="979.5" x2="862.9" y2="987.5" stroke="#000" stroke-width="4.5"/>
<line x1="890.1" y1="979.5" x2="890.1" y2="993.9" stroke="#000" stroke-width="4.5"/>
<text x="890.1" y="1020.7" font-size="24.3" font-weight="700" text-anchor="middle">30</text>
<text x="811.1" y="1053.3" font-size="27.1" font-weight="700" text-anchor="middle">GCaMP AUC</text>
<text x="809.5" y="671.9" font-size="31.6" text-anchor="middle">G6PDi</text>
<line x1="1098.6" y1="650.3" x2="1098.6" y2="981.8" stroke="#000" stroke-width="3.3"/>
<line x1="1097.4" y1="980.1" x2="1264.5" y2="980.1" stroke="#000" stroke-width="3.3"/>
<line x1="1083.2" y1="980.1" x2="1098.6" y2="980.1" stroke="#000" stroke-width="3.3"/>
<text x="1080.7" y="990.1" font-size="25.3" font-weight="700" text-anchor="end">0</text>
<line x1="1083.2" y1="870.7" x2="1098.6" y2="870.7" stroke="#000" stroke-width="3.3"/>
<text x="1080.7" y="880.7" font-size="25.3" font-weight="700" text-anchor="end">1</text>
<line x1="1083.2" y1="761.3" x2="1098.6" y2="761.3" stroke="#000" stroke-width="3.3"/>
<text x="1080.7" y="771.3" font-size="25.3" font-weight="700" text-anchor="end">2</text>
<line x1="1083.2" y1="651.9" x2="1098.6" y2="651.9" stroke="#000" stroke-width="3.3"/>
<text x="1080.7" y="661.9" font-size="25.3" font-weight="700" text-anchor="end">3</text>
<text x="1021.9" y="815.2" font-size="24.8" font-weight="700" text-anchor="middle" transform="rotate(-90 1021.9 815.2)">relative metabolite level</text>
<text x="1051.2" y="814.5" font-size="24.8" text-anchor="middle" transform="rotate(-90 1051.2 814.5)">[ctrl = 1]</text>
<line x1="1131.0" y1="809.6" x2="1131.0" y2="836.0" stroke="#000" stroke-width="1.6"/>
<line x1="1131.0" y1="904.8" x2="1131.0" y2="932.1" stroke="#000" stroke-width="1.6"/>
<line x1="1122.3" y1="809.6" x2="1139.7" y2="809.6" stroke="#000" stroke-width="1.7"/>
<line x1="1122.3" y1="932.1" x2="1139.7" y2="932.1" stroke="#000" stroke-width="1.7"/>
<rect x="1115.5" y="836.0" width="31.9" height="68.8" fill="none" stroke="#000" stroke-width="1.6"/>
<line x1="1114.3" y1="874.5" x2="1148.6" y2="874.5" stroke="#000" stroke-width="1.6"/>
<circle cx="1131.0" cy="809.6" r="4.1" fill="#000"/>
<circle cx="1131.0" cy="820.7" r="4.1" fill="#000"/>
<circle cx="1131.0" cy="835.6" r="4.1" fill="#000"/>
<circle cx="1137.9" cy="864.6" r="4.1" fill="#000"/>
<circle cx="1124.9" cy="870.6" r="4.1" fill="#000"/>
<circle cx="1137.9" cy="874.3" r="4.1" fill="#000"/>
<circle cx="1131.0" cy="881.8" r="4.1" fill="#000"/>
<circle cx="1131.0" cy="890.0" r="4.1" fill="#000"/>
<circle cx="1124.9" cy="905.7" r="4.1" fill="#000"/>
<circle cx="1137.9" cy="910.3" r="4.1" fill="#000"/>
<circle cx="1131.0" cy="932.1" r="4.1" fill="#000"/>
<line x1="1180.4" y1="702.7" x2="1180.4" y2="778.5" stroke="#783e98" stroke-width="1.6"/>
<line x1="1180.4" y1="906.8" x2="1180.4" y2="928.4" stroke="#783e98" stroke-width="1.6"/>
<line x1="1171.7" y1="702.7" x2="1189.1" y2="702.7" stroke="#783e98" stroke-width="1.7"/>
<line x1="1171.7" y1="928.4" x2="1189.1" y2="928.4" stroke="#783e98" stroke-width="1.7"/>
<rect x="1164.5" y="778.5" width="31.9" height="128.3" fill="none" stroke="#783e98" stroke-width="1.6"/>
<line x1="1163.3" y1="845.2" x2="1197.6" y2="845.2" stroke="#783e98" stroke-width="1.6"/>
<rect x="1176.2" y="698.5" width="8.4" height="8.4" fill="#783e98"/>
<rect x="1176.2" y="766.0" width="8.4" height="8.4" fill="#783e98"/>
<rect x="1176.2" y="772.8" width="8.4" height="8.4" fill="#783e98"/>
<rect x="1162.7" y="819.2" width="8.4" height="8.4" fill="#783e98"/>
<rect x="1176.2" y="819.7" width="8.4" height="8.4" fill="#783e98"/>
<rect x="1176.2" y="841.0" width="8.4" height="8.4" fill="#783e98"/>
<rect x="1176.2" y="877.6" width="8.4" height="8.4" fill="#783e98"/>
<rect x="1162.7" y="903.9" width="8.4" height="8.4" fill="#783e98"/>
<rect x="1189.5" y="903.9" width="8.4" height="8.4" fill="#783e98"/>
<rect x="1176.2" y="908.5" width="8.4" height="8.4" fill="#783e98"/>
<rect x="1176.2" y="924.2" width="8.4" height="8.4" fill="#783e98"/>
<line x1="1229.7" y1="778.3" x2="1229.7" y2="851.7" stroke="#ef7f1b" stroke-width="1.6"/>
<line x1="1229.7" y1="880.4" x2="1229.7" y2="880.4" stroke="#ef7f1b" stroke-width="1.6"/>
<line x1="1221.0" y1="778.3" x2="1238.4" y2="778.3" stroke="#ef7f1b" stroke-width="1.7"/>
<line x1="1221.0" y1="880.4" x2="1238.4" y2="880.4" stroke="#ef7f1b" stroke-width="1.7"/>
<rect x="1214.2" y="851.7" width="31.8" height="28.7" fill="none" stroke="#ef7f1b" stroke-width="1.6"/>
<line x1="1213.0" y1="865.6" x2="1247.2" y2="865.6" stroke="#ef7f1b" stroke-width="1.6"/>
<polygon points="1224.2,783.8 1235.2,783.8 1229.7,773.2" fill="#ef7f1b"/>
<polygon points="1224.2,844.7 1235.2,844.7 1229.7,834.1" fill="#ef7f1b"/>
<polygon points="1212.7,858.8 1223.7,858.8 1218.2,848.2" fill="#ef7f1b"/>
<polygon points="1235.8,856.7 1246.8,856.7 1241.3,846.1" fill="#ef7f1b"/>
<polygon points="1224.2,862.0 1235.2,862.0 1229.7,851.4" fill="#ef7f1b"/>
<polygon points="1212.7,872.3 1223.7,872.3 1218.2,861.7" fill="#ef7f1b"/>
<polygon points="1235.8,871.4 1246.8,871.4 1241.3,860.8" fill="#ef7f1b"/>
<polygon points="1224.2,877.2 1235.2,877.2 1229.7,866.6" fill="#ef7f1b"/>
<polygon points="1224.2,887.9 1235.2,887.9 1229.7,877.3" fill="#ef7f1b"/>
<polygon points="1212.7,893.6 1223.7,893.6 1218.2,883.0" fill="#ef7f1b"/>
<polygon points="1235.8,892.7 1246.8,892.7 1241.3,882.1" fill="#ef7f1b"/>
<text x="1141.3" y="1023.5" font-size="25" font-weight="700" text-anchor="end" transform="rotate(-45 1141.3 1023.5)">ctrl</text>
<text x="1190.7" y="1023.5" font-size="25" font-weight="700" text-anchor="end" transform="rotate(-45 1190.7 1023.5)">Foro</text>
<text x="1240.0" y="1023.5" font-size="25" font-weight="700" text-anchor="end" transform="rotate(-45 1240.0 1023.5)">G6PDi</text>
<line x1="1427.0" y1="817.5" x2="1590.6" y2="817.5" stroke="#111" stroke-width="1.1"/>
<line x1="1427.0" y1="817.2" x2="1545.8" y2="653.4" stroke="#783e98" stroke-width="1.45"/>
<line x1="1427.0" y1="817.2" x2="1573.0" y2="823.7" stroke="#783e98" stroke-width="1.45"/>
<rect x="1490.8" y="673.0" width="9.6" height="9.6" fill="#783e98"/>
<rect x="1516.4" y="661.7" width="9.6" height="9.6" fill="#783e98"/>
<rect x="1553.4" y="718.4" width="9.6" height="9.6" fill="#783e98"/>
<rect x="1513.4" y="741.7" width="9.6" height="9.6" fill="#783e98"/>
<rect x="1523.7" y="740.6" width="9.6" height="9.6" fill="#783e98"/>
<rect x="1504.3" y="774.0" width="9.6" height="9.6" fill="#783e98"/>
<rect x="1472.6" y="829.0" width="9.6" height="9.6" fill="#783e98"/>
<rect x="1480.6" y="867.8" width="9.6" height="9.6" fill="#783e98"/>
<rect x="1567.7" y="867.8" width="9.6" height="9.6" fill="#783e98"/>
<rect x="1473.3" y="898.8" width="9.6" height="9.6" fill="#783e98"/>
<line x1="1428.0" y1="817.2" x2="1573.0" y2="722.2" stroke="#783e98" stroke-width="5.7" stroke-linecap="round"/>
<line x1="1427.0" y1="651.8" x2="1427.0" y2="982.8" stroke="#000" stroke-width="3.3"/>
<line x1="1425.3" y1="981.1" x2="1592.2" y2="981.1" stroke="#000" stroke-width="3.3"/>
<line x1="1412.0" y1="981.1" x2="1427.0" y2="981.1" stroke="#000" stroke-width="3.3"/>
<text x="1408.9" y="989.9" font-size="24.3" font-weight="700" text-anchor="end">0.0</text>
<line x1="1412.0" y1="899.2" x2="1427.0" y2="899.2" stroke="#000" stroke-width="3.3"/>
<text x="1408.9" y="908.0" font-size="24.3" font-weight="700" text-anchor="end">0.5</text>
<line x1="1412.0" y1="817.2" x2="1427.0" y2="817.2" stroke="#000" stroke-width="3.3"/>
<text x="1408.9" y="826.0" font-size="24.3" font-weight="700" text-anchor="end">1.0</text>
<line x1="1412.0" y1="735.3" x2="1427.0" y2="735.3" stroke="#000" stroke-width="3.3"/>
<text x="1408.9" y="744.1" font-size="24.3" font-weight="700" text-anchor="end">1.5</text>
<line x1="1412.0" y1="653.4" x2="1427.0" y2="653.4" stroke="#000" stroke-width="3.3"/>
<text x="1408.9" y="662.2" font-size="24.3" font-weight="700" text-anchor="end">2.0</text>
<line x1="1427.0" y1="981.1" x2="1427.0" y2="995.9" stroke="#000" stroke-width="3.3"/>
<text x="1427.0" y="1022.3" font-size="24.3" font-weight="700" text-anchor="middle">0</text>
<line x1="1454.3" y1="981.1" x2="1454.3" y2="989.6" stroke="#000" stroke-width="3.3"/>
<line x1="1481.5" y1="981.1" x2="1481.5" y2="995.9" stroke="#000" stroke-width="3.3"/>
<text x="1481.5" y="1022.3" font-size="24.3" font-weight="700" text-anchor="middle">10</text>
<line x1="1508.8" y1="981.1" x2="1508.8" y2="989.6" stroke="#000" stroke-width="3.3"/>
<line x1="1536.1" y1="981.1" x2="1536.1" y2="995.9" stroke="#000" stroke-width="3.3"/>
<text x="1536.1" y="1022.3" font-size="24.3" font-weight="700" text-anchor="middle">20</text>
<line x1="1563.3" y1="981.1" x2="1563.3" y2="989.6" stroke="#000" stroke-width="3.3"/>
<line x1="1590.6" y1="981.1" x2="1590.6" y2="995.9" stroke="#000" stroke-width="3.3"/>
<text x="1590.6" y="1022.3" font-size="24.3" font-weight="700" text-anchor="middle">30</text>
<text x="1510.8" y="1054.4" font-size="27.1" font-weight="700" text-anchor="middle">GCaMP AUC</text>
<text x="1512.2" y="672.7" font-size="32" text-anchor="middle">Foro</text>
<text x="1326.7" y="817.0" font-size="24.8" font-weight="700" text-anchor="middle" transform="rotate(-90 1326.7 817.0)">relative metabolite level</text>
<text x="1356.8" y="816.7" font-size="24.8" text-anchor="middle" transform="rotate(-90 1356.8 816.7)">[ctrl = 1]</text>
<line x1="1689.0" y1="817.7" x2="1852.8" y2="817.7" stroke="#667" stroke-width="1.1"/>
<line x1="1689.0" y1="817.5" x2="1833.9" y2="740.3" stroke="#ef7f1b" stroke-width="1.45"/>
<line x1="1689.0" y1="817.5" x2="1833.9" y2="829.9" stroke="#ef7f1b" stroke-width="1.45"/>
<polygon points="1789.3,685.5 1802.1,685.5 1795.7,673.1" fill="#ef7f1b"/>
<polygon points="1759.6,797.9 1772.4,797.9 1766.0,785.5" fill="#ef7f1b"/>
<polygon points="1779.0,802.3 1791.8,802.3 1785.4,789.9" fill="#ef7f1b"/>
<polygon points="1802.7,794.0 1815.5,794.0 1809.1,781.6" fill="#ef7f1b"/>
<polygon points="1789.3,816.7 1802.1,816.7 1795.7,804.3" fill="#ef7f1b"/>
<polygon points="1796.3,816.7 1809.1,816.7 1802.7,804.3" fill="#ef7f1b"/>
<polygon points="1826.8,817.8 1839.6,817.8 1833.2,805.4" fill="#ef7f1b"/>
<polygon points="1772.2,823.5 1785.0,823.5 1778.6,811.1" fill="#ef7f1b"/>
<polygon points="1737.6,839.5 1750.4,839.5 1744.0,827.1" fill="#ef7f1b"/>
<polygon points="1743.8,849.8 1756.6,849.8 1750.2,837.4" fill="#ef7f1b"/>
<line x1="1690.0" y1="817.5" x2="1833.9" y2="786.0" stroke="#ef7f1b" stroke-width="5.2" stroke-linecap="round"/>
<line x1="1689.0" y1="651.8" x2="1689.0" y2="983.1" stroke="#000" stroke-width="3.3"/>
<line x1="1687.3" y1="981.5" x2="1854.4" y2="981.5" stroke="#000" stroke-width="3.3"/>
<line x1="1674.0" y1="981.5" x2="1689.0" y2="981.5" stroke="#000" stroke-width="3.3"/>
<text x="1670.9" y="990.3" font-size="24.3" font-weight="700" text-anchor="end">0.0</text>
<line x1="1674.0" y1="899.5" x2="1689.0" y2="899.5" stroke="#000" stroke-width="3.3"/>
<text x="1670.9" y="908.3" font-size="24.3" font-weight="700" text-anchor="end">0.5</text>
<line x1="1674.0" y1="817.5" x2="1689.0" y2="817.5" stroke="#000" stroke-width="3.3"/>
<text x="1670.9" y="826.2" font-size="24.3" font-weight="700" text-anchor="end">1.0</text>
<line x1="1674.0" y1="735.4" x2="1689.0" y2="735.4" stroke="#000" stroke-width="3.3"/>
<text x="1670.9" y="744.2" font-size="24.3" font-weight="700" text-anchor="end">1.5</text>
<line x1="1674.0" y1="653.4" x2="1689.0" y2="653.4" stroke="#000" stroke-width="3.3"/>
<text x="1670.9" y="662.2" font-size="24.3" font-weight="700" text-anchor="end">2.0</text>
<line x1="1689.0" y1="981.5" x2="1689.0" y2="996.3" stroke="#000" stroke-width="3.3"/>
<text x="1689.0" y="1022.7" font-size="24.3" font-weight="700" text-anchor="middle">0</text>
<line x1="1716.3" y1="981.5" x2="1716.3" y2="990.0" stroke="#000" stroke-width="3.3"/>
<line x1="1743.6" y1="981.5" x2="1743.6" y2="996.3" stroke="#000" stroke-width="3.3"/>
<text x="1743.6" y="1022.7" font-size="24.3" font-weight="700" text-anchor="middle">10</text>
<line x1="1770.9" y1="981.5" x2="1770.9" y2="990.0" stroke="#000" stroke-width="3.3"/>
<line x1="1798.2" y1="981.5" x2="1798.2" y2="996.3" stroke="#000" stroke-width="3.3"/>
<text x="1798.2" y="1022.7" font-size="24.3" font-weight="700" text-anchor="middle">20</text>
<line x1="1825.5" y1="981.5" x2="1825.5" y2="990.0" stroke="#000" stroke-width="3.3"/>
<line x1="1852.8" y1="981.5" x2="1852.8" y2="996.3" stroke="#000" stroke-width="3.3"/>
<text x="1852.8" y="1022.7" font-size="24.3" font-weight="700" text-anchor="middle">30</text>
<text x="1772.9" y="1054.8" font-size="27.1" font-weight="700" text-anchor="middle">GCaMP AUC</text>
<text x="1771.4" y="672.8" font-size="32" text-anchor="middle">G6PDi</text>
</svg>
</body></html>
